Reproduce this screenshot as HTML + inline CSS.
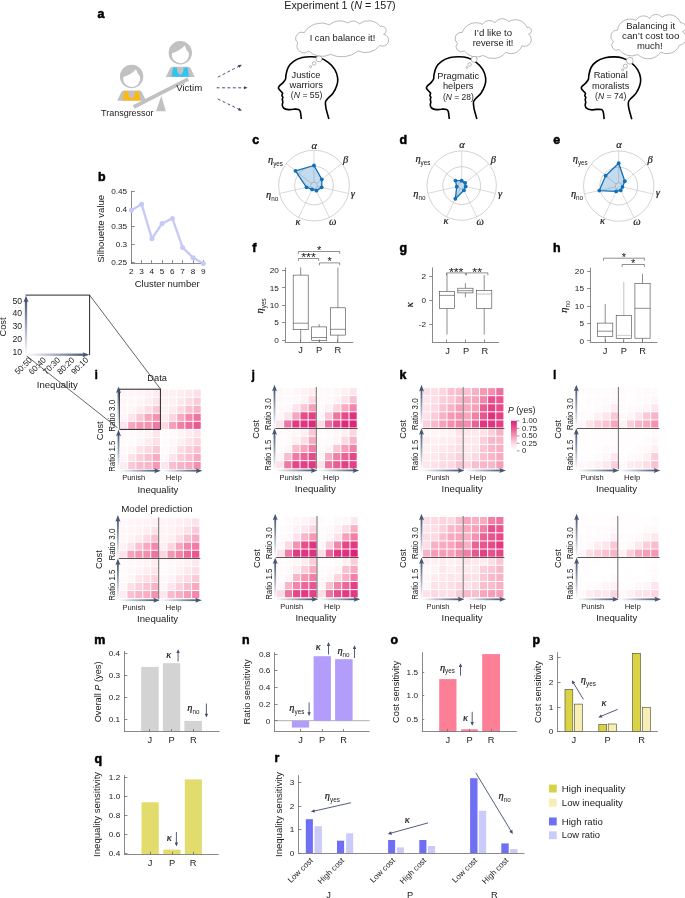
<!DOCTYPE html>
<html><head><meta charset="utf-8"><title>Figure</title>
<style>
html,body{margin:0;padding:0;background:#fff;overflow:hidden;}
svg{display:block;font-family:"Liberation Sans",sans-serif;fill:#1a1a1a;}
</style></head><body>
<svg width="685" height="898" viewBox="0 0 685 898">
<rect width="685" height="898" fill="#fff"/>
<defs>
<linearGradient id="gx" x1="0" y1="0" x2="1" y2="0"><stop offset="0" stop-color="#ffffff"/><stop offset="0.15" stop-color="#e8eaef"/><stop offset="1" stop-color="#475675"/></linearGradient>
<linearGradient id="gy" x1="0" y1="1" x2="0" y2="0"><stop offset="0" stop-color="#ffffff"/><stop offset="0.15" stop-color="#e8eaef"/><stop offset="1" stop-color="#475675"/></linearGradient>
<linearGradient id="cb" x1="0" y1="0" x2="0" y2="1"><stop offset="0" stop-color="#dd1e76"/><stop offset="0.25" stop-color="#e9568f"/><stop offset="0.55" stop-color="#f7a2bb"/><stop offset="0.8" stop-color="#fde0e8"/><stop offset="1" stop-color="#ffffff"/></linearGradient>
</defs>
<text x="340.00" y="8.80" font-size="11" text-anchor="middle" textLength="111.40" lengthAdjust="spacingAndGlyphs">Experiment 1 (<tspan font-style="italic">N</tspan> = 157)</text>
<text x="97.60" y="18.40" font-size="12.4" font-weight="bold" fill="#000" stroke="#000" stroke-width="0.55" stroke-linejoin="round">a</text>
<line x1="133.70" y1="107.00" x2="188.20" y2="79.10" stroke="#c1c1c1" stroke-width="3.8" />
<path d="M161.3,95.8 L156,111.2 L165.9,111.2Z" fill="#c1c1c1" />
<circle cx="131.60" cy="76.50" r="11.70" fill="#c1c1c1"/>
<path d="M123.30,76.90 Q130.60,75.30 136.00,69.30 Q137.40,73.90 139.90,76.30 A8.5,8.5 0 1 1 123.30,76.90Z" fill="#fff" />
<path d="M124.00,90.50 L139.20,90.50 Q141.20,90.50 142.00,92.30 L146.00,100.70 L117.20,100.70 L121.20,92.30 Q122.00,90.50 124.00,90.50Z" fill="#c1c1c1" />
<path d="M124.40,91.30 L128.20,91.30 C128.60,100.90 134.60,100.90 135.00,91.30 L138.80,91.30 L140.50,100.50 L122.70,100.50Z" fill="#fdb813" />
<circle cx="180.30" cy="52.80" r="11.70" fill="#c1c1c1"/>
<path d="M172.00,53.20 Q179.30,51.60 184.70,45.60 Q186.10,50.20 188.60,52.60 A8.5,8.5 0 1 1 172.00,53.20Z" fill="#fff" />
<path d="M172.70,66.80 L187.90,66.80 Q189.90,66.80 190.70,68.60 L194.70,77.00 L165.90,77.00 L169.90,68.60 Q170.70,66.80 172.70,66.80Z" fill="#c1c1c1" />
<path d="M173.10,67.60 L176.90,67.60 C177.30,77.20 183.30,77.20 183.70,67.60 L187.50,67.60 L189.20,76.80 L171.40,76.80Z" fill="#33c3f3" />
<text x="176.20" y="91.20" font-size="9.3" textLength="26.00" lengthAdjust="spacingAndGlyphs">Victim</text>
<text x="101.00" y="115.50" font-size="9.3" textLength="52.60" lengthAdjust="spacingAndGlyphs">Transgressor</text>
<line x1="217.80" y1="77.20" x2="239.15" y2="66.13" stroke="#34405e" stroke-width="0.9" stroke-dasharray="3 2.4"/>
<path d="M241.90,64.70 L239.39,67.69 L238.01,65.03Z" fill="#34405e" />
<line x1="216.60" y1="87.80" x2="244.50" y2="87.80" stroke="#34405e" stroke-width="0.9" stroke-dasharray="3 2.4"/>
<path d="M247.60,87.80 L244.00,89.30 L244.00,86.30Z" fill="#34405e" />
<line x1="217.80" y1="99.00" x2="239.11" y2="109.35" stroke="#34405e" stroke-width="0.9" stroke-dasharray="3 2.4"/>
<path d="M241.90,110.70 L238.01,110.48 L239.32,107.78Z" fill="#34405e" />
<path d="M301.30,119.00 C301.13,117.77 300.77,113.20 300.30,111.60 C299.83,110.00 299.62,109.80 298.50,109.40 C297.38,109.00 295.32,109.17 293.60,109.20 C291.88,109.23 289.87,109.80 288.20,109.60 C286.53,109.40 284.58,108.75 283.60,108.00 C282.62,107.25 282.43,106.12 282.30,105.10 C282.17,104.08 282.80,102.88 282.80,101.90 C282.80,100.92 282.28,99.97 282.30,99.20 C282.32,98.43 282.97,97.93 282.90,97.30 C282.83,96.67 281.95,96.08 281.90,95.40 C281.85,94.72 282.72,93.83 282.60,93.20 C282.48,92.57 281.88,92.40 281.20,91.60 C280.52,90.80 278.87,89.27 278.50,88.40 C278.13,87.53 278.28,87.32 279.00,86.40 C279.72,85.48 281.72,84.10 282.80,82.90 C283.88,81.70 284.97,80.55 285.50,79.20 C286.03,77.85 285.55,76.78 286.00,74.80 C286.45,72.82 286.93,69.55 288.20,67.30 C289.47,65.05 291.27,62.92 293.60,61.30 C295.93,59.68 299.32,58.37 302.20,57.60 C305.08,56.83 308.02,56.67 310.90,56.70 C313.78,56.73 316.62,56.85 319.50,57.80 C322.38,58.75 325.67,60.47 328.20,62.40 C330.73,64.33 333.12,66.78 334.70,69.40 C336.28,72.02 337.35,75.40 337.70,78.10 C338.05,80.80 337.58,83.08 336.80,85.60 C336.02,88.12 334.43,91.12 333.00,93.20 C331.57,95.28 329.45,96.65 328.20,98.10 C326.95,99.55 325.87,100.20 325.50,101.90 C325.13,103.60 325.43,105.45 326.00,108.30 C326.57,111.15 328.42,117.22 328.90,119.00" fill="none" stroke="#000" stroke-width="1.6" stroke-linecap="butt" stroke-linejoin="round"/>
<path d="M449.30,119.00 C449.13,117.77 448.77,113.20 448.30,111.60 C447.83,110.00 447.62,109.80 446.50,109.40 C445.38,109.00 443.32,109.17 441.60,109.20 C439.88,109.23 437.87,109.80 436.20,109.60 C434.53,109.40 432.58,108.75 431.60,108.00 C430.62,107.25 430.43,106.12 430.30,105.10 C430.17,104.08 430.80,102.88 430.80,101.90 C430.80,100.92 430.28,99.97 430.30,99.20 C430.32,98.43 430.97,97.93 430.90,97.30 C430.83,96.67 429.95,96.08 429.90,95.40 C429.85,94.72 430.72,93.83 430.60,93.20 C430.48,92.57 429.88,92.40 429.20,91.60 C428.52,90.80 426.87,89.27 426.50,88.40 C426.13,87.53 426.28,87.32 427.00,86.40 C427.72,85.48 429.72,84.10 430.80,82.90 C431.88,81.70 432.97,80.55 433.50,79.20 C434.03,77.85 433.55,76.78 434.00,74.80 C434.45,72.82 434.93,69.55 436.20,67.30 C437.47,65.05 439.27,62.92 441.60,61.30 C443.93,59.68 447.32,58.37 450.20,57.60 C453.08,56.83 456.02,56.67 458.90,56.70 C461.78,56.73 464.62,56.85 467.50,57.80 C470.38,58.75 473.67,60.47 476.20,62.40 C478.73,64.33 481.12,66.78 482.70,69.40 C484.28,72.02 485.35,75.40 485.70,78.10 C486.05,80.80 485.58,83.08 484.80,85.60 C484.02,88.12 482.43,91.12 481.00,93.20 C479.57,95.28 477.45,96.65 476.20,98.10 C474.95,99.55 473.87,100.20 473.50,101.90 C473.13,103.60 473.43,105.45 474.00,108.30 C474.57,111.15 476.42,117.22 476.90,119.00" fill="none" stroke="#000" stroke-width="1.6" stroke-linecap="butt" stroke-linejoin="round"/>
<path d="M604.20,119.20 C604.03,117.97 603.67,113.40 603.20,111.80 C602.73,110.20 602.52,110.00 601.40,109.60 C600.28,109.20 598.22,109.37 596.50,109.40 C594.78,109.43 592.77,110.00 591.10,109.80 C589.43,109.60 587.48,108.95 586.50,108.20 C585.52,107.45 585.33,106.32 585.20,105.30 C585.07,104.28 585.70,103.08 585.70,102.10 C585.70,101.12 585.18,100.17 585.20,99.40 C585.22,98.63 585.87,98.13 585.80,97.50 C585.73,96.87 584.85,96.28 584.80,95.60 C584.75,94.92 585.62,94.03 585.50,93.40 C585.38,92.77 584.78,92.60 584.10,91.80 C583.42,91.00 581.77,89.47 581.40,88.60 C581.03,87.73 581.18,87.52 581.90,86.60 C582.62,85.68 584.62,84.30 585.70,83.10 C586.78,81.90 587.87,80.75 588.40,79.40 C588.93,78.05 588.45,76.98 588.90,75.00 C589.35,73.02 589.83,69.75 591.10,67.50 C592.37,65.25 594.17,63.12 596.50,61.50 C598.83,59.88 602.22,58.57 605.10,57.80 C607.98,57.03 610.92,56.87 613.80,56.90 C616.68,56.93 619.52,57.05 622.40,58.00 C625.28,58.95 628.57,60.67 631.10,62.60 C633.63,64.53 636.02,66.98 637.60,69.60 C639.18,72.22 640.25,75.60 640.60,78.30 C640.95,81.00 640.48,83.28 639.70,85.80 C638.92,88.32 637.33,91.32 635.90,93.40 C634.47,95.48 632.35,96.85 631.10,98.30 C629.85,99.75 628.77,100.40 628.40,102.10 C628.03,103.80 628.33,105.65 628.90,108.50 C629.47,111.35 631.32,117.42 631.80,119.20" fill="none" stroke="#000" stroke-width="1.6" stroke-linecap="butt" stroke-linejoin="round"/>
<path d="M297.70,42.80 A6.06,6.06 0 0 1 304.20,32.80 A20.14,20.14 0 0 1 329.50,24.70 A15.88,15.88 0 0 1 348.00,23.00 A7.56,7.56 0 0 1 359.20,23.90 A15.06,15.06 0 0 1 380.50,26.60 A4.15,4.15 0 1 1 383.60,34.30 A5.96,5.96 0 1 1 379.80,45.40 A17.70,17.70 0 0 1 358.10,51.00 A26.17,26.17 0 0 1 330.50,54.40 A19.29,19.29 0 0 1 308.60,51.00 A6.98,6.98 0 0 1 297.70,42.80Z" fill="#fff" stroke="#8a8a8a" stroke-width="0.6" />
<circle cx="319.00" cy="58.90" r="3.00" fill="#fff" stroke="#8a8a8a" stroke-width="0.6"/>
<circle cx="314.10" cy="63.40" r="1.80" fill="#fff" stroke="#8a8a8a" stroke-width="0.6"/>
<circle cx="310.60" cy="66.60" r="1.00" fill="#fff" stroke="#8a8a8a" stroke-width="0.6"/>
<text x="342.50" y="41.10" font-size="9.3" text-anchor="middle" textLength="65.70" lengthAdjust="spacingAndGlyphs">I can balance it!</text>
<path d="M457.40,43.30 A6.04,6.04 0 0 1 462.10,32.60 A14.63,14.63 0 0 1 482.50,24.30 A8.00,8.00 0 0 1 494.90,22.80 A8.69,8.69 0 0 1 508.80,21.70 A12.39,12.39 0 0 1 527.00,27.50 A3.39,3.39 0 1 1 528.50,34.10 A6.76,6.76 0 0 1 521.90,45.80 A11.32,11.32 0 0 1 505.90,52.30 A16.85,16.85 0 0 1 483.20,55.50 A15.40,15.40 0 0 1 464.20,50.90 A5.14,5.14 0 0 1 457.40,43.30Z" fill="#fff" stroke="#8a8a8a" stroke-width="0.6" />
<circle cx="474.10" cy="59.30" r="3.00" fill="#fff" stroke="#8a8a8a" stroke-width="0.6"/>
<circle cx="469.60" cy="64.50" r="1.70" fill="#fff" stroke="#8a8a8a" stroke-width="0.6"/>
<circle cx="466.90" cy="67.50" r="0.90" fill="#fff" stroke="#8a8a8a" stroke-width="0.6"/>
<text x="493.10" y="36.00" font-size="9.3" text-anchor="middle" textLength="38.00" lengthAdjust="spacingAndGlyphs">I’d like to</text>
<text x="493.10" y="46.20" font-size="9.3" text-anchor="middle" textLength="40.70" lengthAdjust="spacingAndGlyphs">reverse it!</text>
<path d="M613.40,41.50 A6.18,6.18 0 0 1 617.40,30.30 A12.84,12.84 0 0 1 636.00,20.40 A8.48,8.48 0 0 1 649.60,18.50 A7.29,7.29 0 0 1 662.00,17.30 A12.03,12.03 0 0 1 680.70,22.90 A4.47,4.47 0 0 1 682.50,31.60 A7.36,7.36 0 0 1 679.40,45.20 A13.14,13.14 0 0 1 660.80,52.00 A14.91,14.91 0 0 1 637.80,54.50 A14.96,14.96 0 0 1 619.20,49.60 A5.01,5.01 0 0 1 613.40,41.50Z" fill="#fff" stroke="#8a8a8a" stroke-width="0.6" />
<circle cx="629.80" cy="60.70" r="3.40" fill="#fff" stroke="#8a8a8a" stroke-width="0.6"/>
<circle cx="625.40" cy="66.10" r="2.00" fill="#fff" stroke="#8a8a8a" stroke-width="0.6"/>
<circle cx="622.70" cy="69.80" r="1.10" fill="#fff" stroke="#8a8a8a" stroke-width="0.6"/>
<text x="650.70" y="28.50" font-size="9.3" text-anchor="middle" textLength="48.80" lengthAdjust="spacingAndGlyphs">Balancing it</text>
<text x="650.70" y="38.80" font-size="9.3" text-anchor="middle" textLength="57.30" lengthAdjust="spacingAndGlyphs">can’t cost too</text>
<text x="649.80" y="48.90" font-size="9.3" text-anchor="middle" textLength="25.80" lengthAdjust="spacingAndGlyphs">much!</text>
<text x="306.00" y="77.50" font-size="9.3" text-anchor="middle">Justice</text>
<text x="306.20" y="87.80" font-size="9.3" text-anchor="middle" textLength="33.50" lengthAdjust="spacingAndGlyphs">warriors</text>
<text x="306.60" y="97.70" font-size="9.3" text-anchor="middle" textLength="31.50" lengthAdjust="spacingAndGlyphs">(<tspan font-style="italic">N</tspan> = 55)</text>
<text x="458.20" y="79.00" font-size="9.3" text-anchor="middle">Pragmatic</text>
<text x="458.20" y="89.30" font-size="9.3" text-anchor="middle">helpers</text>
<text x="458.40" y="99.50" font-size="9.3" text-anchor="middle" textLength="30.80" lengthAdjust="spacingAndGlyphs">(<tspan font-style="italic">N</tspan> = 28)</text>
<text x="610.70" y="78.40" font-size="9.3" text-anchor="middle">Rational</text>
<text x="610.70" y="88.80" font-size="9.3" text-anchor="middle">moralists</text>
<text x="610.70" y="99.40" font-size="9.3" text-anchor="middle" textLength="31.20" lengthAdjust="spacingAndGlyphs">(<tspan font-style="italic">N</tspan> = 74)</text>
<text x="98.00" y="181.40" font-size="12.4" font-weight="bold" fill="#000" stroke="#000" stroke-width="0.55" stroke-linejoin="round">b</text>
<line x1="131.50" y1="190.90" x2="131.50" y2="263.40" stroke="#6c6c6c" stroke-width="0.8" />
<line x1="131.00" y1="263.50" x2="204.00" y2="263.50" stroke="#6c6c6c" stroke-width="0.8" />
<line x1="131.40" y1="191.50" x2="134.80" y2="191.50" stroke="#6c6c6c" stroke-width="0.8" />
<text x="127.20" y="194.00" font-size="7.9" text-anchor="end" textLength="15.99" lengthAdjust="spacingAndGlyphs">0.45</text>
<line x1="131.40" y1="208.50" x2="134.80" y2="208.50" stroke="#6c6c6c" stroke-width="0.8" />
<text x="127.20" y="211.60" font-size="7.9" text-anchor="end" textLength="11.42" lengthAdjust="spacingAndGlyphs">0.4</text>
<line x1="131.40" y1="226.50" x2="134.80" y2="226.50" stroke="#6c6c6c" stroke-width="0.8" />
<text x="127.20" y="229.30" font-size="7.9" text-anchor="end" textLength="15.99" lengthAdjust="spacingAndGlyphs">0.35</text>
<line x1="131.40" y1="244.50" x2="134.80" y2="244.50" stroke="#6c6c6c" stroke-width="0.8" />
<text x="127.20" y="247.10" font-size="7.9" text-anchor="end" textLength="11.42" lengthAdjust="spacingAndGlyphs">0.3</text>
<line x1="131.40" y1="262.50" x2="134.80" y2="262.50" stroke="#6c6c6c" stroke-width="0.8" />
<text x="127.20" y="265.10" font-size="7.9" text-anchor="end" textLength="15.99" lengthAdjust="spacingAndGlyphs">0.25</text>
<line x1="131.50" y1="263.40" x2="131.50" y2="260.20" stroke="#6c6c6c" stroke-width="0.8" />
<text x="131.40" y="274.30" font-size="7.9" text-anchor="middle" textLength="4.57" lengthAdjust="spacingAndGlyphs">2</text>
<line x1="141.50" y1="263.40" x2="141.50" y2="260.20" stroke="#6c6c6c" stroke-width="0.8" />
<text x="141.60" y="274.30" font-size="7.9" text-anchor="middle" textLength="4.57" lengthAdjust="spacingAndGlyphs">3</text>
<line x1="151.50" y1="263.40" x2="151.50" y2="260.20" stroke="#6c6c6c" stroke-width="0.8" />
<text x="151.90" y="274.30" font-size="7.9" text-anchor="middle" textLength="4.57" lengthAdjust="spacingAndGlyphs">4</text>
<line x1="162.50" y1="263.40" x2="162.50" y2="260.20" stroke="#6c6c6c" stroke-width="0.8" />
<text x="162.10" y="274.30" font-size="7.9" text-anchor="middle" textLength="4.57" lengthAdjust="spacingAndGlyphs">5</text>
<line x1="172.50" y1="263.40" x2="172.50" y2="260.20" stroke="#6c6c6c" stroke-width="0.8" />
<text x="172.40" y="274.30" font-size="7.9" text-anchor="middle" textLength="4.57" lengthAdjust="spacingAndGlyphs">6</text>
<line x1="182.50" y1="263.40" x2="182.50" y2="260.20" stroke="#6c6c6c" stroke-width="0.8" />
<text x="182.60" y="274.30" font-size="7.9" text-anchor="middle" textLength="4.57" lengthAdjust="spacingAndGlyphs">7</text>
<line x1="193.50" y1="263.40" x2="193.50" y2="260.20" stroke="#6c6c6c" stroke-width="0.8" />
<text x="193.10" y="274.30" font-size="7.9" text-anchor="middle" textLength="4.57" lengthAdjust="spacingAndGlyphs">8</text>
<line x1="203.50" y1="263.40" x2="203.50" y2="260.20" stroke="#6c6c6c" stroke-width="0.8" />
<text x="203.30" y="274.30" font-size="7.9" text-anchor="middle" textLength="4.57" lengthAdjust="spacingAndGlyphs">9</text>
<polyline points="131.4,210.2 141.6,204.2 151.9,238.7 162.1,223.5 172.4,218.4 182.6,247.4 193.1,257.7 203.3,263.6" fill="none" stroke="#c6c9f6" stroke-width="2.3" stroke-linejoin="round"/>
<circle cx="131.40" cy="210.20" r="2.50" fill="#c6c9f6"/>
<circle cx="141.60" cy="204.20" r="2.50" fill="#c6c9f6"/>
<circle cx="151.90" cy="238.70" r="2.50" fill="#c6c9f6"/>
<circle cx="162.10" cy="223.50" r="2.50" fill="#c6c9f6"/>
<circle cx="172.40" cy="218.40" r="2.50" fill="#c6c9f6"/>
<circle cx="182.60" cy="247.40" r="2.50" fill="#c6c9f6"/>
<circle cx="193.10" cy="257.70" r="2.50" fill="#c6c9f6"/>
<circle cx="203.30" cy="263.60" r="2.50" fill="#c6c9f6"/>
<text x="167.20" y="287.30" font-size="9.3" text-anchor="middle" textLength="65.00" lengthAdjust="spacingAndGlyphs">Cluster number</text>
<text x="104.20" y="228.80" font-size="9.3" text-anchor="middle" transform="rotate(-90 104.20 228.80)" textLength="68.00" lengthAdjust="spacingAndGlyphs">Silhouette value</text>
<line x1="89.60" y1="295.10" x2="160.60" y2="389.20" stroke="#222" stroke-width="0.7" />
<line x1="25.60" y1="355.10" x2="119.50" y2="429.40" stroke="#222" stroke-width="0.7" />
<rect x="25.60" y="295.10" width="64.00" height="60.00" fill="#fff" />
<line x1="25.60" y1="295.10" x2="90.00" y2="295.10" stroke="#111" stroke-width="0.9" />
<line x1="89.60" y1="295.10" x2="89.60" y2="355.10" stroke="#111" stroke-width="0.9" />
<rect x="24.85" y="300.00" width="2.3" height="55.10" fill="url(#gy)"/>
<path d="M26.00,295.60 L23.50,302.20 L26.00,301.00 L28.50,302.20Z" fill="#475675" />
<rect x="25.60" y="353.55" width="59.30" height="2.3" fill="url(#gx)"/>
<path d="M89.30,354.70 L82.70,352.20 L83.90,354.70 L82.70,357.20Z" fill="#475675" />
<text x="22.00" y="303.90" font-size="8.3" text-anchor="end" textLength="9.60" lengthAdjust="spacingAndGlyphs">50</text>
<text x="22.00" y="316.20" font-size="8.3" text-anchor="end" textLength="9.60" lengthAdjust="spacingAndGlyphs">40</text>
<text x="22.00" y="328.90" font-size="8.3" text-anchor="end" textLength="9.60" lengthAdjust="spacingAndGlyphs">30</text>
<text x="22.00" y="342.20" font-size="8.3" text-anchor="end" textLength="9.60" lengthAdjust="spacingAndGlyphs">20</text>
<text x="22.00" y="355.10" font-size="8.3" text-anchor="end" textLength="9.60" lengthAdjust="spacingAndGlyphs">10</text>
<text x="6.30" y="327.00" font-size="9.3" text-anchor="middle" transform="rotate(-90 6.30 327.00)">Cost</text>
<text x="32.60" y="360.60" font-size="8.2" text-anchor="end" transform="rotate(-45 32.60 360.60)">50:50</text>
<text x="46.60" y="360.60" font-size="8.2" text-anchor="end" transform="rotate(-45 46.60 360.60)">60:40</text>
<text x="60.80" y="360.60" font-size="8.2" text-anchor="end" transform="rotate(-45 60.80 360.60)">70:30</text>
<text x="75.00" y="360.60" font-size="8.2" text-anchor="end" transform="rotate(-45 75.00 360.60)">80:20</text>
<text x="89.00" y="360.60" font-size="8.2" text-anchor="end" transform="rotate(-45 89.00 360.60)">90:10</text>
<text x="57.30" y="388.30" font-size="9.3" text-anchor="middle" textLength="41.00" lengthAdjust="spacingAndGlyphs">Inequality</text>
<text x="252.20" y="144.40" font-size="12.4" font-weight="bold" fill="#000" stroke="#000" stroke-width="0.55" stroke-linejoin="round">c</text>
<text x="399.60" y="144.40" font-size="12.4" font-weight="bold" fill="#000" stroke="#000" stroke-width="0.55" stroke-linejoin="round">d</text>
<text x="553.20" y="144.40" font-size="12.4" font-weight="bold" fill="#000" stroke="#000" stroke-width="0.55" stroke-linejoin="round">e</text>
<circle cx="314.00" cy="185.60" r="35.40" fill="none" stroke="#b5b5b5" stroke-width="0.6"/>
<circle cx="314.00" cy="185.60" r="19.30" fill="none" stroke="#b5b5b5" stroke-width="0.6"/>
<circle cx="314.00" cy="185.60" r="3.40" fill="none" stroke="#b5b5b5" stroke-width="0.6"/>
<line x1="314.00" y1="182.20" x2="314.00" y2="150.20" stroke="#b5b5b5" stroke-width="0.5" />
<line x1="316.66" y1="183.48" x2="341.68" y2="163.53" stroke="#b5b5b5" stroke-width="0.5" />
<line x1="317.31" y1="186.36" x2="348.51" y2="193.48" stroke="#b5b5b5" stroke-width="0.5" />
<line x1="315.48" y1="188.66" x2="329.36" y2="217.49" stroke="#b5b5b5" stroke-width="0.5" />
<line x1="312.52" y1="188.66" x2="298.64" y2="217.49" stroke="#b5b5b5" stroke-width="0.5" />
<line x1="310.69" y1="186.36" x2="279.49" y2="193.48" stroke="#b5b5b5" stroke-width="0.5" />
<line x1="311.34" y1="183.48" x2="286.32" y2="163.53" stroke="#b5b5b5" stroke-width="0.5" />
<polygon points="314.00,165.50 321.82,179.37 321.70,187.36 316.43,190.65 312.13,189.47 306.49,187.31 295.47,170.82" fill="#1170b8" fill-opacity="0.25" stroke="#1170b8" stroke-width="1.3" stroke-linejoin="round"/>
<circle cx="314.00" cy="165.50" r="1.90" fill="#1170b8"/>
<circle cx="321.82" cy="179.37" r="1.90" fill="#1170b8"/>
<circle cx="321.70" cy="187.36" r="1.90" fill="#1170b8"/>
<circle cx="316.43" cy="190.65" r="1.90" fill="#1170b8"/>
<circle cx="312.13" cy="189.47" r="1.90" fill="#1170b8"/>
<circle cx="306.49" cy="187.31" r="1.90" fill="#1170b8"/>
<circle cx="295.47" cy="170.82" r="1.90" fill="#1170b8"/>
<text x="314.30" y="149.00" font-size="10.5" text-anchor="middle" font-family='"Liberation Serif", serif' font-style="italic" stroke="#1a1a1a" stroke-width="0.2">α</text>
<text x="345.60" y="163.40" font-size="10.5" text-anchor="middle" font-family='"Liberation Serif", serif' font-style="italic" stroke="#1a1a1a" stroke-width="0.2">β</text>
<text x="352.80" y="196.80" font-size="10.5" text-anchor="middle" font-family='"Liberation Serif", serif' font-style="italic" stroke="#1a1a1a" stroke-width="0.2">γ</text>
<text x="332.70" y="225.30" font-size="10.5" text-anchor="middle" font-family='"Liberation Serif", serif' font-style="italic" stroke="#1a1a1a" stroke-width="0.2">ω</text>
<text x="297.90" y="224.90" font-size="10.5" text-anchor="middle" font-family='"Liberation Serif", serif' font-style="italic" stroke="#1a1a1a" stroke-width="0.2">κ</text>
<text x="272.20" y="198.10" font-size="10.5" text-anchor="middle"><tspan font-family='"Liberation Serif", serif' font-style="italic" font-size="10.5" stroke="#1a1a1a" stroke-width="0.2">η</tspan><tspan font-size="6.3" dy="2.73">no</tspan></text>
<text x="275.50" y="163.00" font-size="10.5" text-anchor="middle"><tspan font-family='"Liberation Serif", serif' font-style="italic" font-size="10.5" stroke="#1a1a1a" stroke-width="0.2">η</tspan><tspan font-size="6.3" dy="2.73">yes</tspan></text>
<circle cx="461.70" cy="185.60" r="34.70" fill="none" stroke="#b5b5b5" stroke-width="0.6"/>
<circle cx="461.70" cy="185.60" r="18.90" fill="none" stroke="#b5b5b5" stroke-width="0.6"/>
<circle cx="461.70" cy="185.60" r="3.40" fill="none" stroke="#b5b5b5" stroke-width="0.6"/>
<line x1="461.70" y1="182.20" x2="461.70" y2="150.90" stroke="#b5b5b5" stroke-width="0.5" />
<line x1="464.36" y1="183.48" x2="488.83" y2="163.96" stroke="#b5b5b5" stroke-width="0.5" />
<line x1="465.01" y1="186.36" x2="495.53" y2="193.32" stroke="#b5b5b5" stroke-width="0.5" />
<line x1="463.18" y1="188.66" x2="476.76" y2="216.86" stroke="#b5b5b5" stroke-width="0.5" />
<line x1="460.22" y1="188.66" x2="446.64" y2="216.86" stroke="#b5b5b5" stroke-width="0.5" />
<line x1="458.39" y1="186.36" x2="427.87" y2="193.32" stroke="#b5b5b5" stroke-width="0.5" />
<line x1="459.04" y1="183.48" x2="434.57" y2="163.96" stroke="#b5b5b5" stroke-width="0.5" />
<polygon points="461.70,180.70 465.14,182.86 465.70,186.51 463.96,190.29 455.37,198.75 456.73,186.73 455.45,180.61" fill="#1170b8" fill-opacity="0.25" stroke="#1170b8" stroke-width="1.3" stroke-linejoin="round"/>
<circle cx="461.70" cy="180.70" r="1.90" fill="#1170b8"/>
<circle cx="465.14" cy="182.86" r="1.90" fill="#1170b8"/>
<circle cx="465.70" cy="186.51" r="1.90" fill="#1170b8"/>
<circle cx="463.96" cy="190.29" r="1.90" fill="#1170b8"/>
<circle cx="455.37" cy="198.75" r="1.90" fill="#1170b8"/>
<circle cx="456.73" cy="186.73" r="1.90" fill="#1170b8"/>
<circle cx="455.45" cy="180.61" r="1.90" fill="#1170b8"/>
<text x="461.90" y="147.90" font-size="10.5" text-anchor="middle" font-family='"Liberation Serif", serif' font-style="italic" stroke="#1a1a1a" stroke-width="0.2">α</text>
<text x="493.40" y="162.80" font-size="10.5" text-anchor="middle" font-family='"Liberation Serif", serif' font-style="italic" stroke="#1a1a1a" stroke-width="0.2">β</text>
<text x="500.10" y="197.00" font-size="10.5" text-anchor="middle" font-family='"Liberation Serif", serif' font-style="italic" stroke="#1a1a1a" stroke-width="0.2">γ</text>
<text x="480.10" y="225.00" font-size="10.5" text-anchor="middle" font-family='"Liberation Serif", serif' font-style="italic" stroke="#1a1a1a" stroke-width="0.2">ω</text>
<text x="446.00" y="224.20" font-size="10.5" text-anchor="middle" font-family='"Liberation Serif", serif' font-style="italic" stroke="#1a1a1a" stroke-width="0.2">κ</text>
<text x="419.40" y="197.20" font-size="10.5" text-anchor="middle"><tspan font-family='"Liberation Serif", serif' font-style="italic" font-size="10.5" stroke="#1a1a1a" stroke-width="0.2">η</tspan><tspan font-size="6.3" dy="2.73">no</tspan></text>
<text x="422.90" y="162.40" font-size="10.5" text-anchor="middle"><tspan font-family='"Liberation Serif", serif' font-style="italic" font-size="10.5" stroke="#1a1a1a" stroke-width="0.2">η</tspan><tspan font-size="6.3" dy="2.73">yes</tspan></text>
<circle cx="618.70" cy="186.10" r="35.20" fill="none" stroke="#b5b5b5" stroke-width="0.6"/>
<circle cx="618.70" cy="186.10" r="18.90" fill="none" stroke="#b5b5b5" stroke-width="0.6"/>
<circle cx="618.70" cy="186.10" r="3.40" fill="none" stroke="#b5b5b5" stroke-width="0.6"/>
<line x1="618.70" y1="182.70" x2="618.70" y2="150.90" stroke="#b5b5b5" stroke-width="0.5" />
<line x1="621.36" y1="183.98" x2="646.22" y2="164.15" stroke="#b5b5b5" stroke-width="0.5" />
<line x1="622.01" y1="186.86" x2="653.02" y2="193.93" stroke="#b5b5b5" stroke-width="0.5" />
<line x1="620.18" y1="189.16" x2="633.97" y2="217.81" stroke="#b5b5b5" stroke-width="0.5" />
<line x1="617.22" y1="189.16" x2="603.43" y2="217.81" stroke="#b5b5b5" stroke-width="0.5" />
<line x1="615.39" y1="186.86" x2="584.38" y2="193.93" stroke="#b5b5b5" stroke-width="0.5" />
<line x1="616.04" y1="183.98" x2="591.18" y2="164.15" stroke="#b5b5b5" stroke-width="0.5" />
<polygon points="618.70,163.20 624.80,181.24 622.50,186.97 620.78,190.42 616.14,191.42 599.30,190.53 605.64,175.69" fill="#1170b8" fill-opacity="0.25" stroke="#1170b8" stroke-width="1.3" stroke-linejoin="round"/>
<circle cx="618.70" cy="163.20" r="1.90" fill="#1170b8"/>
<circle cx="624.80" cy="181.24" r="1.90" fill="#1170b8"/>
<circle cx="622.50" cy="186.97" r="1.90" fill="#1170b8"/>
<circle cx="620.78" cy="190.42" r="1.90" fill="#1170b8"/>
<circle cx="616.14" cy="191.42" r="1.90" fill="#1170b8"/>
<circle cx="599.30" cy="190.53" r="1.90" fill="#1170b8"/>
<circle cx="605.64" cy="175.69" r="1.90" fill="#1170b8"/>
<text x="619.00" y="147.80" font-size="10.5" text-anchor="middle" font-family='"Liberation Serif", serif' font-style="italic" stroke="#1a1a1a" stroke-width="0.2">α</text>
<text x="650.00" y="162.90" font-size="10.5" text-anchor="middle" font-family='"Liberation Serif", serif' font-style="italic" stroke="#1a1a1a" stroke-width="0.2">β</text>
<text x="657.70" y="196.10" font-size="10.5" text-anchor="middle" font-family='"Liberation Serif", serif' font-style="italic" stroke="#1a1a1a" stroke-width="0.2">γ</text>
<text x="637.00" y="224.60" font-size="10.5" text-anchor="middle" font-family='"Liberation Serif", serif' font-style="italic" stroke="#1a1a1a" stroke-width="0.2">ω</text>
<text x="602.40" y="224.00" font-size="10.5" text-anchor="middle" font-family='"Liberation Serif", serif' font-style="italic" stroke="#1a1a1a" stroke-width="0.2">κ</text>
<text x="577.00" y="196.80" font-size="10.5" text-anchor="middle"><tspan font-family='"Liberation Serif", serif' font-style="italic" font-size="10.5" stroke="#1a1a1a" stroke-width="0.2">η</tspan><tspan font-size="6.3" dy="2.73">no</tspan></text>
<text x="580.20" y="161.80" font-size="10.5" text-anchor="middle"><tspan font-family='"Liberation Serif", serif' font-style="italic" font-size="10.5" stroke="#1a1a1a" stroke-width="0.2">η</tspan><tspan font-size="6.3" dy="2.73">yes</tspan></text>
<text x="252.20" y="251.50" font-size="12.4" font-weight="bold" fill="#000" stroke="#000" stroke-width="0.55" stroke-linejoin="round">f</text>
<line x1="285.50" y1="267.40" x2="285.50" y2="342.10" stroke="#6c6c6c" stroke-width="0.8" />
<line x1="284.70" y1="342.50" x2="353.30" y2="342.50" stroke="#6c6c6c" stroke-width="0.8" />
<line x1="282.10" y1="270.50" x2="285.10" y2="270.50" stroke="#6c6c6c" stroke-width="0.8" />
<text x="278.90" y="272.90" font-size="7.9" text-anchor="end" textLength="9.14" lengthAdjust="spacingAndGlyphs">20</text>
<line x1="282.10" y1="287.50" x2="285.10" y2="287.50" stroke="#6c6c6c" stroke-width="0.8" />
<text x="278.90" y="290.60" font-size="7.9" text-anchor="end" textLength="9.14" lengthAdjust="spacingAndGlyphs">15</text>
<line x1="282.10" y1="305.50" x2="285.10" y2="305.50" stroke="#6c6c6c" stroke-width="0.8" />
<text x="278.90" y="307.90" font-size="7.9" text-anchor="end" textLength="9.14" lengthAdjust="spacingAndGlyphs">10</text>
<line x1="282.10" y1="322.50" x2="285.10" y2="322.50" stroke="#6c6c6c" stroke-width="0.8" />
<text x="278.90" y="325.40" font-size="7.9" text-anchor="end" textLength="4.57" lengthAdjust="spacingAndGlyphs">5</text>
<line x1="282.10" y1="340.50" x2="285.10" y2="340.50" stroke="#6c6c6c" stroke-width="0.8" />
<text x="278.90" y="342.70" font-size="7.9" text-anchor="end" textLength="4.57" lengthAdjust="spacingAndGlyphs">0</text>
<line x1="300.70" y1="275.10" x2="300.70" y2="267.40" stroke="#444" stroke-width="0.6" />
<line x1="300.70" y1="329.70" x2="300.70" y2="342.00" stroke="#444" stroke-width="0.6" />
<rect x="293.20" y="275.10" width="15.00" height="54.60" fill="#fff" stroke="#444" stroke-width="0.6" />
<line x1="293.20" y1="323.20" x2="308.20" y2="323.20" stroke="#444" stroke-width="0.6" />
<line x1="319.20" y1="326.90" x2="319.20" y2="324.10" stroke="#444" stroke-width="0.6" />
<line x1="319.20" y1="340.50" x2="319.20" y2="342.00" stroke="#444" stroke-width="0.6" />
<rect x="311.70" y="326.90" width="15.00" height="13.60" fill="#fff" stroke="#444" stroke-width="0.6" />
<line x1="311.70" y1="337.50" x2="326.70" y2="337.50" stroke="#444" stroke-width="0.6" />
<line x1="337.90" y1="307.80" x2="337.90" y2="267.40" stroke="#444" stroke-width="0.6" />
<line x1="337.90" y1="335.10" x2="337.90" y2="342.00" stroke="#444" stroke-width="0.6" />
<rect x="330.40" y="307.80" width="15.00" height="27.30" fill="#fff" stroke="#444" stroke-width="0.6" />
<line x1="330.40" y1="329.30" x2="345.40" y2="329.30" stroke="#444" stroke-width="0.6" />
<line x1="300.50" y1="342.10" x2="300.50" y2="339.50" stroke="#6c6c6c" stroke-width="0.8" />
<text x="300.70" y="353.20" font-size="9.3" text-anchor="middle">J</text>
<line x1="319.50" y1="342.10" x2="319.50" y2="339.50" stroke="#6c6c6c" stroke-width="0.8" />
<text x="319.20" y="353.20" font-size="9.3" text-anchor="middle">P</text>
<line x1="337.50" y1="342.10" x2="337.50" y2="339.50" stroke="#6c6c6c" stroke-width="0.8" />
<text x="337.90" y="353.20" font-size="9.3" text-anchor="middle">R</text>
<text x="263.50" y="305.90" font-size="10.5" text-anchor="middle" transform="rotate(-90 263.50 305.90)"><tspan font-family='"Liberation Serif", serif' font-style="italic" font-size="10.5" stroke="#1a1a1a" stroke-width="0.2">η</tspan><tspan font-size="6.3" dy="2.73">yes</tspan></text>
<path d="M298.40,253.90 L298.40,251.50 L339.70,251.50 L339.70,253.90" fill="none" stroke="#444" stroke-width="0.6" />
<text x="319.05" y="253.60" font-size="11" text-anchor="middle" fill="#111">*</text>
<path d="M298.40,260.90 L298.40,258.50 L318.70,258.50 L318.70,260.90" fill="none" stroke="#444" stroke-width="0.6" />
<text x="308.55" y="260.60" font-size="11" text-anchor="middle" textLength="14.60" lengthAdjust="spacingAndGlyphs" fill="#111">***</text>
<path d="M319.40,265.30 L319.40,262.90 L339.70,262.90 L339.70,265.30" fill="none" stroke="#444" stroke-width="0.6" />
<text x="329.55" y="265.00" font-size="11" text-anchor="middle" fill="#111">*</text>
<text x="399.60" y="251.50" font-size="12.4" font-weight="bold" fill="#000" stroke="#000" stroke-width="0.55" stroke-linejoin="round">g</text>
<line x1="432.50" y1="267.40" x2="432.50" y2="342.10" stroke="#6c6c6c" stroke-width="0.8" />
<line x1="431.90" y1="342.50" x2="499.10" y2="342.50" stroke="#6c6c6c" stroke-width="0.8" />
<line x1="429.30" y1="276.50" x2="432.30" y2="276.50" stroke="#6c6c6c" stroke-width="0.8" />
<text x="426.10" y="278.90" font-size="7.9" text-anchor="end" textLength="4.57" lengthAdjust="spacingAndGlyphs">2</text>
<line x1="429.30" y1="300.50" x2="432.30" y2="300.50" stroke="#6c6c6c" stroke-width="0.8" />
<text x="426.10" y="302.80" font-size="7.9" text-anchor="end" textLength="4.57" lengthAdjust="spacingAndGlyphs">0</text>
<line x1="429.30" y1="324.50" x2="432.30" y2="324.50" stroke="#6c6c6c" stroke-width="0.8" />
<text x="426.10" y="327.10" font-size="7.9" text-anchor="end" textLength="7.30" lengthAdjust="spacingAndGlyphs">-2</text>
<line x1="447.00" y1="291.30" x2="447.00" y2="273.50" stroke="#444" stroke-width="0.6" />
<line x1="447.00" y1="308.70" x2="447.00" y2="334.60" stroke="#444" stroke-width="0.6" />
<rect x="439.40" y="291.30" width="15.20" height="17.40" fill="#fff" stroke="#444" stroke-width="0.6" />
<line x1="439.40" y1="295.40" x2="454.60" y2="295.40" stroke="#444" stroke-width="0.6" />
<line x1="465.40" y1="288.20" x2="465.40" y2="283.10" stroke="#444" stroke-width="0.6" />
<line x1="465.40" y1="292.90" x2="465.40" y2="297.40" stroke="#444" stroke-width="0.6" />
<rect x="457.80" y="288.20" width="15.20" height="4.70" fill="#fff" stroke="#444" stroke-width="0.6" />
<line x1="457.80" y1="290.70" x2="473.00" y2="290.70" stroke="#444" stroke-width="0.6" />
<line x1="484.20" y1="290.30" x2="484.20" y2="275.00" stroke="#444" stroke-width="0.6" />
<line x1="484.20" y1="308.70" x2="484.20" y2="334.60" stroke="#444" stroke-width="0.6" />
<rect x="476.60" y="290.30" width="15.20" height="18.40" fill="#fff" stroke="#444" stroke-width="0.6" />
<line x1="476.60" y1="294.00" x2="491.80" y2="294.00" stroke="#999" stroke-width="0.6" />
<line x1="446.50" y1="342.10" x2="446.50" y2="339.50" stroke="#6c6c6c" stroke-width="0.8" />
<text x="447.60" y="353.60" font-size="9.3" text-anchor="middle">J</text>
<line x1="465.50" y1="342.10" x2="465.50" y2="339.50" stroke="#6c6c6c" stroke-width="0.8" />
<text x="466.00" y="353.60" font-size="9.3" text-anchor="middle">P</text>
<line x1="484.50" y1="342.10" x2="484.50" y2="339.50" stroke="#6c6c6c" stroke-width="0.8" />
<text x="484.80" y="353.60" font-size="9.3" text-anchor="middle">R</text>
<text x="412.60" y="304.60" font-size="10.5" text-anchor="middle" font-family='"Liberation Serif", serif' font-style="italic" stroke="#1a1a1a" stroke-width="0.2" transform="rotate(-90 412.60 304.60)">κ</text>
<path d="M446.60,275.30 L446.60,272.90 L465.80,272.90 L465.80,275.30" fill="none" stroke="#444" stroke-width="0.6" />
<text x="456.20" y="275.90" font-size="11" text-anchor="middle" textLength="14.60" lengthAdjust="spacingAndGlyphs" fill="#111">***</text>
<path d="M466.40,275.30 L466.40,272.90 L487.90,272.90 L487.90,275.30" fill="none" stroke="#444" stroke-width="0.6" />
<text x="477.15" y="275.90" font-size="11" text-anchor="middle" textLength="9.60" lengthAdjust="spacingAndGlyphs" fill="#111">**</text>
<text x="553.00" y="251.80" font-size="12.4" font-weight="bold" fill="#000" stroke="#000" stroke-width="0.55" stroke-linejoin="round">h</text>
<line x1="590.50" y1="267.70" x2="590.50" y2="342.10" stroke="#6c6c6c" stroke-width="0.8" />
<line x1="589.80" y1="342.50" x2="657.50" y2="342.50" stroke="#6c6c6c" stroke-width="0.8" />
<line x1="587.20" y1="271.50" x2="590.20" y2="271.50" stroke="#6c6c6c" stroke-width="0.8" />
<text x="584.00" y="274.00" font-size="7.9" text-anchor="end" textLength="9.14" lengthAdjust="spacingAndGlyphs">20</text>
<line x1="587.20" y1="288.50" x2="590.20" y2="288.50" stroke="#6c6c6c" stroke-width="0.8" />
<text x="584.00" y="291.30" font-size="7.9" text-anchor="end" textLength="9.14" lengthAdjust="spacingAndGlyphs">15</text>
<line x1="587.20" y1="306.50" x2="590.20" y2="306.50" stroke="#6c6c6c" stroke-width="0.8" />
<text x="584.00" y="308.90" font-size="7.9" text-anchor="end" textLength="9.14" lengthAdjust="spacingAndGlyphs">10</text>
<line x1="587.20" y1="323.50" x2="590.20" y2="323.50" stroke="#6c6c6c" stroke-width="0.8" />
<text x="584.00" y="326.10" font-size="7.9" text-anchor="end" textLength="4.57" lengthAdjust="spacingAndGlyphs">5</text>
<line x1="587.20" y1="340.50" x2="590.20" y2="340.50" stroke="#6c6c6c" stroke-width="0.8" />
<text x="584.00" y="343.60" font-size="7.9" text-anchor="end" textLength="4.57" lengthAdjust="spacingAndGlyphs">0</text>
<line x1="605.20" y1="323.10" x2="605.20" y2="304.10" stroke="#444" stroke-width="0.6" />
<line x1="605.20" y1="336.50" x2="605.20" y2="341.80" stroke="#444" stroke-width="0.6" />
<rect x="597.60" y="323.10" width="15.20" height="13.40" fill="#fff" stroke="#444" stroke-width="0.6" />
<line x1="597.60" y1="331.20" x2="612.80" y2="331.20" stroke="#444" stroke-width="0.6" />
<line x1="623.80" y1="315.50" x2="623.80" y2="281.90" stroke="#999" stroke-width="0.6" />
<line x1="623.80" y1="338.60" x2="623.80" y2="341.80" stroke="#999" stroke-width="0.6" />
<rect x="616.20" y="315.50" width="15.20" height="23.10" fill="#fff" stroke="#444" stroke-width="0.6" />
<line x1="616.20" y1="335.40" x2="631.40" y2="335.40" stroke="#aaa" stroke-width="0.6" />
<line x1="642.50" y1="283.30" x2="642.50" y2="273.80" stroke="#444" stroke-width="0.6" />
<line x1="642.50" y1="338.20" x2="642.50" y2="341.80" stroke="#444" stroke-width="0.6" />
<rect x="634.90" y="283.30" width="15.20" height="54.90" fill="#fff" stroke="#444" stroke-width="0.6" />
<line x1="634.90" y1="308.30" x2="650.10" y2="308.30" stroke="#444" stroke-width="0.6" />
<line x1="605.50" y1="342.10" x2="605.50" y2="339.50" stroke="#6c6c6c" stroke-width="0.8" />
<text x="605.20" y="353.50" font-size="9.3" text-anchor="middle">J</text>
<line x1="623.50" y1="342.10" x2="623.50" y2="339.50" stroke="#6c6c6c" stroke-width="0.8" />
<text x="623.80" y="353.50" font-size="9.3" text-anchor="middle">P</text>
<line x1="642.50" y1="342.10" x2="642.50" y2="339.50" stroke="#6c6c6c" stroke-width="0.8" />
<text x="642.50" y="353.50" font-size="9.3" text-anchor="middle">R</text>
<text x="567.50" y="306.60" font-size="10.5" text-anchor="middle" transform="rotate(-90 567.50 306.60)"><tspan font-family='"Liberation Serif", serif' font-style="italic" font-size="10.5" stroke="#1a1a1a" stroke-width="0.2">η</tspan><tspan font-size="6.3" dy="2.73">no</tspan></text>
<path d="M603.50,260.60 L603.50,258.20 L644.40,258.20 L644.40,260.60" fill="none" stroke="#444" stroke-width="0.6" />
<text x="623.95" y="261.10" font-size="11" text-anchor="middle" fill="#111">*</text>
<path d="M622.10,266.90 L622.10,264.50 L644.40,264.50 L644.40,266.90" fill="none" stroke="#444" stroke-width="0.6" />
<text x="633.25" y="267.40" font-size="11" text-anchor="middle" fill="#111">*</text>
<text x="94.60" y="378.60" font-size="12.4" font-weight="bold" fill="#000" stroke="#000" stroke-width="0.3" stroke-linejoin="round">i</text>
<text x="251.60" y="378.60" font-size="12.4" font-weight="bold" fill="#000" stroke="#000" stroke-width="0.3" stroke-linejoin="round">j</text>
<text x="399.60" y="378.60" font-size="12.4" font-weight="bold" fill="#000" stroke="#000" stroke-width="0.55" stroke-linejoin="round">k</text>
<text x="553.00" y="378.60" font-size="12.4" font-weight="bold" fill="#000" stroke="#000" stroke-width="0.3" stroke-linejoin="round">l</text>
<rect x="120.00" y="389.70" width="7.18" height="7.04" fill="#fff4f7" />
<rect x="128.18" y="389.70" width="7.18" height="7.04" fill="#fff6f8" />
<rect x="136.36" y="389.70" width="7.18" height="7.04" fill="#fff4f7" />
<rect x="144.54" y="389.70" width="7.18" height="7.04" fill="#fff2f5" />
<rect x="152.72" y="389.70" width="7.18" height="7.04" fill="#ffecf1" />
<rect x="120.00" y="397.74" width="7.18" height="7.04" fill="#fff6f8" />
<rect x="128.18" y="397.74" width="7.18" height="7.04" fill="#fff8fa" />
<rect x="136.36" y="397.74" width="7.18" height="7.04" fill="#fff4f7" />
<rect x="144.54" y="397.74" width="7.18" height="7.04" fill="#ffeef3" />
<rect x="152.72" y="397.74" width="7.18" height="7.04" fill="#fee3ea" />
<rect x="120.00" y="405.78" width="7.18" height="7.04" fill="#fff6f8" />
<rect x="128.18" y="405.78" width="7.18" height="7.04" fill="#fff6f8" />
<rect x="136.36" y="405.78" width="7.18" height="7.04" fill="#ffecf1" />
<rect x="144.54" y="405.78" width="7.18" height="7.04" fill="#fedfe7" />
<rect x="152.72" y="405.78" width="7.18" height="7.04" fill="#fbc6d5" />
<rect x="120.00" y="413.82" width="7.18" height="7.04" fill="#fff4f7" />
<rect x="128.18" y="413.82" width="7.18" height="7.04" fill="#fee4ec" />
<rect x="136.36" y="413.82" width="7.18" height="7.04" fill="#fbc6d5" />
<rect x="144.54" y="413.82" width="7.18" height="7.04" fill="#f8a5bd" />
<rect x="152.72" y="413.82" width="7.18" height="7.04" fill="#f592b1" />
<rect x="120.00" y="421.86" width="7.18" height="7.04" fill="#fee4ec" />
<rect x="128.18" y="421.86" width="7.18" height="7.04" fill="#f8a5bd" />
<rect x="136.36" y="421.86" width="7.18" height="7.04" fill="#f697b4" />
<rect x="144.54" y="421.86" width="7.18" height="7.04" fill="#f592b1" />
<rect x="152.72" y="421.86" width="7.18" height="7.04" fill="#f07aa4" />
<rect x="160.90" y="389.70" width="7.16" height="7.04" fill="#fff0f4" />
<rect x="169.06" y="389.70" width="7.16" height="7.04" fill="#fff0f4" />
<rect x="177.22" y="389.70" width="7.16" height="7.04" fill="#ffecf1" />
<rect x="185.38" y="389.70" width="7.16" height="7.04" fill="#fee8ee" />
<rect x="193.54" y="389.70" width="7.16" height="7.04" fill="#fedfe7" />
<rect x="160.90" y="397.74" width="7.16" height="7.04" fill="#fff2f5" />
<rect x="169.06" y="397.74" width="7.16" height="7.04" fill="#fff0f4" />
<rect x="177.22" y="397.74" width="7.16" height="7.04" fill="#fee8ee" />
<rect x="185.38" y="397.74" width="7.16" height="7.04" fill="#fddbe4" />
<rect x="193.54" y="397.74" width="7.16" height="7.04" fill="#fccbd9" />
<rect x="160.90" y="405.78" width="7.16" height="7.04" fill="#fff2f5" />
<rect x="169.06" y="405.78" width="7.16" height="7.04" fill="#ffecf1" />
<rect x="177.22" y="405.78" width="7.16" height="7.04" fill="#fddbe4" />
<rect x="185.38" y="405.78" width="7.16" height="7.04" fill="#fbc1d2" />
<rect x="193.54" y="405.78" width="7.16" height="7.04" fill="#f9b3c7" />
<rect x="160.90" y="413.82" width="7.16" height="7.04" fill="#ffecf1" />
<rect x="169.06" y="413.82" width="7.16" height="7.04" fill="#fdd4e0" />
<rect x="177.22" y="413.82" width="7.16" height="7.04" fill="#f8aac1" />
<rect x="185.38" y="413.82" width="7.16" height="7.04" fill="#f388ac" />
<rect x="193.54" y="413.82" width="7.16" height="7.04" fill="#ef75a1" />
<rect x="160.90" y="421.86" width="7.16" height="7.04" fill="#fdd9e3" />
<rect x="169.06" y="421.86" width="7.16" height="7.04" fill="#f79eb8" />
<rect x="177.22" y="421.86" width="7.16" height="7.04" fill="#f17fa6" />
<rect x="185.38" y="421.86" width="7.16" height="7.04" fill="#ed6c9b" />
<rect x="193.54" y="421.86" width="7.16" height="7.04" fill="#e95890" />
<rect x="120.00" y="429.90" width="7.18" height="7.02" fill="#fff9fb" />
<rect x="128.18" y="429.90" width="7.18" height="7.02" fill="#fff9fb" />
<rect x="136.36" y="429.90" width="7.18" height="7.02" fill="#fff8fa" />
<rect x="144.54" y="429.90" width="7.18" height="7.02" fill="#fff4f7" />
<rect x="152.72" y="429.90" width="7.18" height="7.02" fill="#fee4ec" />
<rect x="120.00" y="437.92" width="7.18" height="7.02" fill="#fffbfc" />
<rect x="128.18" y="437.92" width="7.18" height="7.02" fill="#fffbfc" />
<rect x="136.36" y="437.92" width="7.18" height="7.02" fill="#fff6f8" />
<rect x="144.54" y="437.92" width="7.18" height="7.02" fill="#ffecf1" />
<rect x="152.72" y="437.92" width="7.18" height="7.02" fill="#fedfe7" />
<rect x="120.00" y="445.94" width="7.18" height="7.02" fill="#fff9fb" />
<rect x="128.18" y="445.94" width="7.18" height="7.02" fill="#fff6f8" />
<rect x="136.36" y="445.94" width="7.18" height="7.02" fill="#fee3ea" />
<rect x="144.54" y="445.94" width="7.18" height="7.02" fill="#fdd9e3" />
<rect x="152.72" y="445.94" width="7.18" height="7.02" fill="#fbc8d7" />
<rect x="120.00" y="453.96" width="7.18" height="7.02" fill="#fff6f8" />
<rect x="128.18" y="453.96" width="7.18" height="7.02" fill="#fee1e9" />
<rect x="136.36" y="453.96" width="7.18" height="7.02" fill="#fccdda" />
<rect x="144.54" y="453.96" width="7.18" height="7.02" fill="#fbc1d2" />
<rect x="152.72" y="453.96" width="7.18" height="7.02" fill="#f8aac1" />
<rect x="120.00" y="461.98" width="7.18" height="7.02" fill="#ffecf1" />
<rect x="128.18" y="461.98" width="7.18" height="7.02" fill="#fbc8d7" />
<rect x="136.36" y="461.98" width="7.18" height="7.02" fill="#fabacd" />
<rect x="144.54" y="461.98" width="7.18" height="7.02" fill="#f9b6c9" />
<rect x="152.72" y="461.98" width="7.18" height="7.02" fill="#f697b4" />
<rect x="160.90" y="429.90" width="7.16" height="7.02" fill="#fffbfc" />
<rect x="169.06" y="429.90" width="7.16" height="7.02" fill="#fff9fb" />
<rect x="177.22" y="429.90" width="7.16" height="7.02" fill="#fff4f7" />
<rect x="185.38" y="429.90" width="7.16" height="7.02" fill="#ffecf1" />
<rect x="193.54" y="429.90" width="7.16" height="7.02" fill="#fee3ea" />
<rect x="160.90" y="437.92" width="7.16" height="7.02" fill="#fffbfc" />
<rect x="169.06" y="437.92" width="7.16" height="7.02" fill="#fff8fa" />
<rect x="177.22" y="437.92" width="7.16" height="7.02" fill="#fff0f4" />
<rect x="185.38" y="437.92" width="7.16" height="7.02" fill="#fee3ea" />
<rect x="193.54" y="437.92" width="7.16" height="7.02" fill="#fdd4e0" />
<rect x="160.90" y="445.94" width="7.16" height="7.02" fill="#fffbfc" />
<rect x="169.06" y="445.94" width="7.16" height="7.02" fill="#fff4f7" />
<rect x="177.22" y="445.94" width="7.16" height="7.02" fill="#fddde6" />
<rect x="185.38" y="445.94" width="7.16" height="7.02" fill="#fccdda" />
<rect x="193.54" y="445.94" width="7.16" height="7.02" fill="#fbc1d2" />
<rect x="160.90" y="453.96" width="7.16" height="7.02" fill="#fff8fa" />
<rect x="169.06" y="453.96" width="7.16" height="7.02" fill="#fee3ea" />
<rect x="177.22" y="453.96" width="7.16" height="7.02" fill="#fccdda" />
<rect x="185.38" y="453.96" width="7.16" height="7.02" fill="#fbc1d2" />
<rect x="193.54" y="453.96" width="7.16" height="7.02" fill="#f8aac1" />
<rect x="160.90" y="461.98" width="7.16" height="7.02" fill="#fee6ed" />
<rect x="169.06" y="461.98" width="7.16" height="7.02" fill="#fabdce" />
<rect x="177.22" y="461.98" width="7.16" height="7.02" fill="#f9b3c7" />
<rect x="185.38" y="461.98" width="7.16" height="7.02" fill="#f8aac1" />
<rect x="193.54" y="461.98" width="7.16" height="7.02" fill="#f48dae" />
<rect x="119.50" y="389.20" width="40.90" height="40.20" fill="none" stroke="#222" stroke-width="1.0" />
<rect x="117.60" y="390.80" width="1.8" height="39.10" fill="url(#gy)"/>
<path d="M118.50,386.40 L116.00,393.00 L118.50,391.80 L121.00,393.00Z" fill="#475675" />
<rect x="117.60" y="434.00" width="1.8" height="36.80" fill="url(#gy)"/>
<path d="M118.50,429.60 L116.00,436.20 L118.50,435.00 L121.00,436.20Z" fill="#475675" />
<rect x="118.30" y="469.80" width="38.10" height="1.8" fill="url(#gx)"/>
<path d="M160.80,470.70 L154.20,468.20 L155.40,470.70 L154.20,473.20Z" fill="#475675" />
<rect x="161.20" y="469.80" width="36.80" height="1.8" fill="url(#gx)"/>
<path d="M202.40,470.70 L195.80,468.20 L197.00,470.70 L195.80,473.20Z" fill="#475675" />
<text x="157.10" y="380.70" font-size="9.3" text-anchor="middle">Data</text>
<text x="115.20" y="415.80" font-size="8.5" text-anchor="middle" transform="rotate(-90 115.20 415.80)" textLength="32.00" lengthAdjust="spacingAndGlyphs">Ratio 3.0</text>
<text x="115.20" y="456.25" font-size="8.5" text-anchor="middle" transform="rotate(-90 115.20 456.25)" textLength="31.00" lengthAdjust="spacingAndGlyphs">Ratio 1.5</text>
<text x="102.90" y="430.80" font-size="9.3" text-anchor="middle" transform="rotate(-90 102.90 430.80)" textLength="18.80" lengthAdjust="spacingAndGlyphs">Cost</text>
<text x="133.65" y="480.40" font-size="8.1" text-anchor="middle" textLength="23.00" lengthAdjust="spacingAndGlyphs">Punish</text>
<text x="173.80" y="480.40" font-size="8.1" text-anchor="middle" textLength="16.20" lengthAdjust="spacingAndGlyphs">Help</text>
<text x="157.90" y="492.60" font-size="9.0" text-anchor="middle" textLength="41.00" lengthAdjust="spacingAndGlyphs">Inequality</text>
<rect x="276.00" y="388.00" width="7.16" height="7.10" fill="#fff6f8" />
<rect x="284.16" y="388.00" width="7.16" height="7.10" fill="#fff9fb" />
<rect x="292.32" y="388.00" width="7.16" height="7.10" fill="#fff6f8" />
<rect x="300.48" y="388.00" width="7.16" height="7.10" fill="#fff2f5" />
<rect x="308.64" y="388.00" width="7.16" height="7.10" fill="#ffecf1" />
<rect x="276.00" y="396.10" width="7.16" height="7.10" fill="#fff8fa" />
<rect x="284.16" y="396.10" width="7.16" height="7.10" fill="#fffbfc" />
<rect x="292.32" y="396.10" width="7.16" height="7.10" fill="#fff8fa" />
<rect x="300.48" y="396.10" width="7.16" height="7.10" fill="#fff2f5" />
<rect x="308.64" y="396.10" width="7.16" height="7.10" fill="#fdd9e3" />
<rect x="276.00" y="404.20" width="7.16" height="7.10" fill="#fff8fa" />
<rect x="284.16" y="404.20" width="7.16" height="7.10" fill="#fff8fa" />
<rect x="292.32" y="404.20" width="7.16" height="7.10" fill="#fee3ea" />
<rect x="300.48" y="404.20" width="7.16" height="7.10" fill="#fbc6d5" />
<rect x="308.64" y="404.20" width="7.16" height="7.10" fill="#f79eb8" />
<rect x="276.00" y="412.30" width="7.16" height="7.10" fill="#fff6f8" />
<rect x="284.16" y="412.30" width="7.16" height="7.10" fill="#fee4ec" />
<rect x="292.32" y="412.30" width="7.16" height="7.10" fill="#f8a5bd" />
<rect x="300.48" y="412.30" width="7.16" height="7.10" fill="#e74b8a" />
<rect x="308.64" y="412.30" width="7.16" height="7.10" fill="#e44085" />
<rect x="276.00" y="420.40" width="7.16" height="7.10" fill="#fee3ea" />
<rect x="284.16" y="420.40" width="7.16" height="7.10" fill="#ef75a1" />
<rect x="292.32" y="420.40" width="7.16" height="7.10" fill="#e33982" />
<rect x="300.48" y="420.40" width="7.16" height="7.10" fill="#e23480" />
<rect x="308.64" y="420.40" width="7.16" height="7.10" fill="#df297b" />
<rect x="316.80" y="388.00" width="7.18" height="7.10" fill="#fff9fb" />
<rect x="324.98" y="388.00" width="7.18" height="7.10" fill="#fff9fb" />
<rect x="333.16" y="388.00" width="7.18" height="7.10" fill="#fff6f8" />
<rect x="341.34" y="388.00" width="7.18" height="7.10" fill="#fff0f4" />
<rect x="349.52" y="388.00" width="7.18" height="7.10" fill="#fee4ec" />
<rect x="316.80" y="396.10" width="7.18" height="7.10" fill="#fff9fb" />
<rect x="324.98" y="396.10" width="7.18" height="7.10" fill="#fff9fb" />
<rect x="333.16" y="396.10" width="7.18" height="7.10" fill="#fff4f7" />
<rect x="341.34" y="396.10" width="7.18" height="7.10" fill="#fee3ea" />
<rect x="349.52" y="396.10" width="7.18" height="7.10" fill="#fbc1d2" />
<rect x="316.80" y="404.20" width="7.18" height="7.10" fill="#fff9fb" />
<rect x="324.98" y="404.20" width="7.18" height="7.10" fill="#fff0f4" />
<rect x="333.16" y="404.20" width="7.18" height="7.10" fill="#fdd4e0" />
<rect x="341.34" y="404.20" width="7.18" height="7.10" fill="#f8aac1" />
<rect x="349.52" y="404.20" width="7.18" height="7.10" fill="#f286aa" />
<rect x="316.80" y="412.30" width="7.18" height="7.10" fill="#fff6f8" />
<rect x="324.98" y="412.30" width="7.18" height="7.10" fill="#fbc6d5" />
<rect x="333.16" y="412.30" width="7.18" height="7.10" fill="#ef75a1" />
<rect x="341.34" y="412.30" width="7.18" height="7.10" fill="#e74b8a" />
<rect x="349.52" y="412.30" width="7.18" height="7.10" fill="#e1307e" />
<rect x="316.80" y="420.40" width="7.18" height="7.10" fill="#fddde6" />
<rect x="324.98" y="420.40" width="7.18" height="7.10" fill="#ee6e9d" />
<rect x="333.16" y="420.40" width="7.18" height="7.10" fill="#e44085" />
<rect x="341.34" y="420.40" width="7.18" height="7.10" fill="#df297b" />
<rect x="349.52" y="420.40" width="7.18" height="7.10" fill="#de2579" />
<rect x="276.00" y="428.50" width="7.16" height="7.16" fill="#fff9fb" />
<rect x="284.16" y="428.50" width="7.16" height="7.16" fill="#fff9fb" />
<rect x="292.32" y="428.50" width="7.16" height="7.16" fill="#fff6f8" />
<rect x="300.48" y="428.50" width="7.16" height="7.16" fill="#fff0f4" />
<rect x="308.64" y="428.50" width="7.16" height="7.16" fill="#fbc6d5" />
<rect x="276.00" y="436.66" width="7.16" height="7.16" fill="#fffbfc" />
<rect x="284.16" y="436.66" width="7.16" height="7.16" fill="#fffbfc" />
<rect x="292.32" y="436.66" width="7.16" height="7.16" fill="#fff0f4" />
<rect x="300.48" y="436.66" width="7.16" height="7.16" fill="#fddde6" />
<rect x="308.64" y="436.66" width="7.16" height="7.16" fill="#f8aac1" />
<rect x="276.00" y="444.82" width="7.16" height="7.16" fill="#fffbfc" />
<rect x="284.16" y="444.82" width="7.16" height="7.16" fill="#fff6f8" />
<rect x="292.32" y="444.82" width="7.16" height="7.16" fill="#fabdce" />
<rect x="300.48" y="444.82" width="7.16" height="7.16" fill="#f8a5bd" />
<rect x="308.64" y="444.82" width="7.16" height="7.16" fill="#f17fa6" />
<rect x="276.00" y="452.98" width="7.16" height="7.16" fill="#fff6f8" />
<rect x="284.16" y="452.98" width="7.16" height="7.16" fill="#fabdce" />
<rect x="292.32" y="452.98" width="7.16" height="7.16" fill="#f07aa4" />
<rect x="300.48" y="452.98" width="7.16" height="7.16" fill="#ec6799" />
<rect x="308.64" y="452.98" width="7.16" height="7.16" fill="#e74b8a" />
<rect x="276.00" y="461.14" width="7.16" height="7.16" fill="#fee3ea" />
<rect x="284.16" y="461.14" width="7.16" height="7.16" fill="#f07aa4" />
<rect x="292.32" y="461.14" width="7.16" height="7.16" fill="#e64688" />
<rect x="300.48" y="461.14" width="7.16" height="7.16" fill="#e44085" />
<rect x="308.64" y="461.14" width="7.16" height="7.16" fill="#e33982" />
<rect x="316.80" y="428.50" width="7.18" height="7.16" fill="#fffbfc" />
<rect x="324.98" y="428.50" width="7.18" height="7.16" fill="#fffbfc" />
<rect x="333.16" y="428.50" width="7.18" height="7.16" fill="#fff8fa" />
<rect x="341.34" y="428.50" width="7.18" height="7.16" fill="#fff0f4" />
<rect x="349.52" y="428.50" width="7.18" height="7.16" fill="#fdd4e0" />
<rect x="316.80" y="436.66" width="7.18" height="7.16" fill="#fffbfc" />
<rect x="324.98" y="436.66" width="7.18" height="7.16" fill="#fffbfc" />
<rect x="333.16" y="436.66" width="7.18" height="7.16" fill="#fff4f7" />
<rect x="341.34" y="436.66" width="7.18" height="7.16" fill="#fdd9e3" />
<rect x="349.52" y="436.66" width="7.18" height="7.16" fill="#f9b6c9" />
<rect x="316.80" y="444.82" width="7.18" height="7.16" fill="#fffbfc" />
<rect x="324.98" y="444.82" width="7.18" height="7.16" fill="#fff6f8" />
<rect x="333.16" y="444.82" width="7.18" height="7.16" fill="#fbc6d5" />
<rect x="341.34" y="444.82" width="7.18" height="7.16" fill="#f79eb8" />
<rect x="349.52" y="444.82" width="7.18" height="7.16" fill="#f17fa6" />
<rect x="316.80" y="452.98" width="7.18" height="7.16" fill="#fff8fa" />
<rect x="324.98" y="452.98" width="7.18" height="7.16" fill="#f9afc4" />
<rect x="333.16" y="452.98" width="7.18" height="7.16" fill="#f17fa6" />
<rect x="341.34" y="452.98" width="7.18" height="7.16" fill="#eb6296" />
<rect x="349.52" y="452.98" width="7.18" height="7.16" fill="#e64688" />
<rect x="316.80" y="461.14" width="7.18" height="7.16" fill="#fee3ea" />
<rect x="324.98" y="461.14" width="7.18" height="7.16" fill="#ef75a1" />
<rect x="333.16" y="461.14" width="7.18" height="7.16" fill="#ea5d93" />
<rect x="341.34" y="461.14" width="7.18" height="7.16" fill="#e44085" />
<rect x="349.52" y="461.14" width="7.18" height="7.16" fill="#e44085" />
<line x1="316.30" y1="387.00" x2="316.30" y2="469.30" stroke="#5c5c5c" stroke-width="0.9" />
<line x1="275.00" y1="428.50" x2="357.70" y2="428.50" stroke="#555" stroke-width="1.0" />
<rect x="273.60" y="389.10" width="1.8" height="39.40" fill="url(#gy)"/>
<path d="M274.50,384.70 L272.00,391.30 L274.50,390.10 L277.00,391.30Z" fill="#475675" />
<rect x="273.60" y="432.60" width="1.8" height="37.90" fill="url(#gy)"/>
<path d="M274.50,428.20 L272.00,434.80 L274.50,433.60 L277.00,434.80Z" fill="#475675" />
<rect x="274.30" y="469.50" width="38.84" height="1.8" fill="url(#gx)"/>
<path d="M317.54,470.40 L310.94,467.90 L312.14,470.40 L310.94,472.90Z" fill="#475675" />
<rect x="317.10" y="469.50" width="37.74" height="1.8" fill="url(#gx)"/>
<path d="M359.24,470.40 L352.64,467.90 L353.84,470.40 L352.64,472.90Z" fill="#475675" />
<text x="271.20" y="414.25" font-size="8.5" text-anchor="middle" transform="rotate(-90 271.20 414.25)" textLength="32.00" lengthAdjust="spacingAndGlyphs">Ratio 3.0</text>
<text x="271.20" y="455.20" font-size="8.5" text-anchor="middle" transform="rotate(-90 271.20 455.20)" textLength="31.00" lengthAdjust="spacingAndGlyphs">Ratio 1.5</text>
<text x="258.90" y="429.40" font-size="9.3" text-anchor="middle" transform="rotate(-90 258.90 429.40)" textLength="18.80" lengthAdjust="spacingAndGlyphs">Cost</text>
<text x="291.00" y="480.10" font-size="8.1" text-anchor="middle" textLength="23.00" lengthAdjust="spacingAndGlyphs">Punish</text>
<text x="331.15" y="480.10" font-size="8.1" text-anchor="middle" textLength="16.20" lengthAdjust="spacingAndGlyphs">Help</text>
<text x="315.20" y="492.30" font-size="9.0" text-anchor="middle" textLength="41.00" lengthAdjust="spacingAndGlyphs">Inequality</text>
<rect x="423.00" y="388.10" width="7.14" height="7.08" fill="#fddde6" />
<rect x="431.14" y="388.10" width="7.14" height="7.08" fill="#fddde6" />
<rect x="439.28" y="388.10" width="7.14" height="7.08" fill="#fdd4e0" />
<rect x="447.42" y="388.10" width="7.14" height="7.08" fill="#fbc1d2" />
<rect x="455.56" y="388.10" width="7.14" height="7.08" fill="#fabdce" />
<rect x="423.00" y="396.18" width="7.14" height="7.08" fill="#fee4ec" />
<rect x="431.14" y="396.18" width="7.14" height="7.08" fill="#fddde6" />
<rect x="439.28" y="396.18" width="7.14" height="7.08" fill="#fccdda" />
<rect x="447.42" y="396.18" width="7.14" height="7.08" fill="#fbc6d5" />
<rect x="455.56" y="396.18" width="7.14" height="7.08" fill="#f9b6c9" />
<rect x="423.00" y="404.26" width="7.14" height="7.08" fill="#fee4ec" />
<rect x="431.14" y="404.26" width="7.14" height="7.08" fill="#fdd9e3" />
<rect x="439.28" y="404.26" width="7.14" height="7.08" fill="#fbc1d2" />
<rect x="447.42" y="404.26" width="7.14" height="7.08" fill="#f9b3c7" />
<rect x="455.56" y="404.26" width="7.14" height="7.08" fill="#f79eb8" />
<rect x="423.00" y="412.34" width="7.14" height="7.08" fill="#fee1e9" />
<rect x="431.14" y="412.34" width="7.14" height="7.08" fill="#fccbd9" />
<rect x="439.28" y="412.34" width="7.14" height="7.08" fill="#f9afc4" />
<rect x="447.42" y="412.34" width="7.14" height="7.08" fill="#f697b4" />
<rect x="455.56" y="412.34" width="7.14" height="7.08" fill="#f592b1" />
<rect x="423.00" y="420.42" width="7.14" height="7.08" fill="#fcd0dc" />
<rect x="431.14" y="420.42" width="7.14" height="7.08" fill="#fab8cb" />
<rect x="439.28" y="420.42" width="7.14" height="7.08" fill="#f7a0ba" />
<rect x="447.42" y="420.42" width="7.14" height="7.08" fill="#f48dae" />
<rect x="455.56" y="420.42" width="7.14" height="7.08" fill="#f286aa" />
<rect x="463.70" y="388.10" width="7.14" height="7.08" fill="#fbc1d2" />
<rect x="471.84" y="388.10" width="7.14" height="7.08" fill="#f9afc4" />
<rect x="479.98" y="388.10" width="7.14" height="7.08" fill="#f697b4" />
<rect x="488.12" y="388.10" width="7.14" height="7.08" fill="#f48dae" />
<rect x="496.26" y="388.10" width="7.14" height="7.08" fill="#ee6e9d" />
<rect x="463.70" y="396.18" width="7.14" height="7.08" fill="#f8aac1" />
<rect x="471.84" y="396.18" width="7.14" height="7.08" fill="#f8a5bd" />
<rect x="479.98" y="396.18" width="7.14" height="7.08" fill="#f286aa" />
<rect x="488.12" y="396.18" width="7.14" height="7.08" fill="#e84f8c" />
<rect x="496.26" y="396.18" width="7.14" height="7.08" fill="#e9568f" />
<rect x="463.70" y="404.26" width="7.14" height="7.08" fill="#f8aac1" />
<rect x="471.84" y="404.26" width="7.14" height="7.08" fill="#f7a0ba" />
<rect x="479.98" y="404.26" width="7.14" height="7.08" fill="#ea5d93" />
<rect x="488.12" y="404.26" width="7.14" height="7.08" fill="#e44085" />
<rect x="496.26" y="404.26" width="7.14" height="7.08" fill="#e74b8a" />
<rect x="463.70" y="412.34" width="7.14" height="7.08" fill="#f8a5bd" />
<rect x="471.84" y="412.34" width="7.14" height="7.08" fill="#f17fa6" />
<rect x="479.98" y="412.34" width="7.14" height="7.08" fill="#e9568f" />
<rect x="488.12" y="412.34" width="7.14" height="7.08" fill="#e1307e" />
<rect x="496.26" y="412.34" width="7.14" height="7.08" fill="#e44085" />
<rect x="463.70" y="420.42" width="7.14" height="7.08" fill="#f48dae" />
<rect x="471.84" y="420.42" width="7.14" height="7.08" fill="#eb6296" />
<rect x="479.98" y="420.42" width="7.14" height="7.08" fill="#e23480" />
<rect x="488.12" y="420.42" width="7.14" height="7.08" fill="#e23480" />
<rect x="496.26" y="420.42" width="7.14" height="7.08" fill="#e44085" />
<rect x="423.00" y="428.50" width="7.14" height="7.18" fill="#fff6f8" />
<rect x="431.14" y="428.50" width="7.14" height="7.18" fill="#fff4f7" />
<rect x="439.28" y="428.50" width="7.14" height="7.18" fill="#fff4f7" />
<rect x="447.42" y="428.50" width="7.14" height="7.18" fill="#fff0f4" />
<rect x="455.56" y="428.50" width="7.14" height="7.18" fill="#fee1e9" />
<rect x="423.00" y="436.68" width="7.14" height="7.18" fill="#ffecf1" />
<rect x="431.14" y="436.68" width="7.14" height="7.18" fill="#fff0f4" />
<rect x="439.28" y="436.68" width="7.14" height="7.18" fill="#ffecf1" />
<rect x="447.42" y="436.68" width="7.14" height="7.18" fill="#ffecf1" />
<rect x="455.56" y="436.68" width="7.14" height="7.18" fill="#fee1e9" />
<rect x="423.00" y="444.86" width="7.14" height="7.18" fill="#fff0f4" />
<rect x="431.14" y="444.86" width="7.14" height="7.18" fill="#ffecf1" />
<rect x="439.28" y="444.86" width="7.14" height="7.18" fill="#fee8ee" />
<rect x="447.42" y="444.86" width="7.14" height="7.18" fill="#fee3ea" />
<rect x="455.56" y="444.86" width="7.14" height="7.18" fill="#fddde6" />
<rect x="423.00" y="453.04" width="7.14" height="7.18" fill="#ffecf1" />
<rect x="431.14" y="453.04" width="7.14" height="7.18" fill="#fee8ee" />
<rect x="439.28" y="453.04" width="7.14" height="7.18" fill="#fddde6" />
<rect x="447.42" y="453.04" width="7.14" height="7.18" fill="#fddde6" />
<rect x="455.56" y="453.04" width="7.14" height="7.18" fill="#fcd0dc" />
<rect x="423.00" y="461.22" width="7.14" height="7.18" fill="#fee8ee" />
<rect x="431.14" y="461.22" width="7.14" height="7.18" fill="#fee1e9" />
<rect x="439.28" y="461.22" width="7.14" height="7.18" fill="#fdd9e3" />
<rect x="447.42" y="461.22" width="7.14" height="7.18" fill="#fdd9e3" />
<rect x="455.56" y="461.22" width="7.14" height="7.18" fill="#fbc1d2" />
<rect x="463.70" y="428.50" width="7.14" height="7.18" fill="#fee8ee" />
<rect x="471.84" y="428.50" width="7.14" height="7.18" fill="#fee8ee" />
<rect x="479.98" y="428.50" width="7.14" height="7.18" fill="#fee1e9" />
<rect x="488.12" y="428.50" width="7.14" height="7.18" fill="#fccdda" />
<rect x="496.26" y="428.50" width="7.14" height="7.18" fill="#f9afc4" />
<rect x="463.70" y="436.68" width="7.14" height="7.18" fill="#fee8ee" />
<rect x="471.84" y="436.68" width="7.14" height="7.18" fill="#fee8ee" />
<rect x="479.98" y="436.68" width="7.14" height="7.18" fill="#fccdda" />
<rect x="488.12" y="436.68" width="7.14" height="7.18" fill="#f9b6c9" />
<rect x="496.26" y="436.68" width="7.14" height="7.18" fill="#f9b6c9" />
<rect x="463.70" y="444.86" width="7.14" height="7.18" fill="#fee8ee" />
<rect x="471.84" y="444.86" width="7.14" height="7.18" fill="#fee4ec" />
<rect x="479.98" y="444.86" width="7.14" height="7.18" fill="#fbc6d5" />
<rect x="488.12" y="444.86" width="7.14" height="7.18" fill="#f9b6c9" />
<rect x="496.26" y="444.86" width="7.14" height="7.18" fill="#f9afc4" />
<rect x="463.70" y="453.04" width="7.14" height="7.18" fill="#fee3ea" />
<rect x="471.84" y="453.04" width="7.14" height="7.18" fill="#fdd9e3" />
<rect x="479.98" y="453.04" width="7.14" height="7.18" fill="#fbc1d2" />
<rect x="488.12" y="453.04" width="7.14" height="7.18" fill="#f9b6c9" />
<rect x="496.26" y="453.04" width="7.14" height="7.18" fill="#f8aac1" />
<rect x="463.70" y="461.22" width="7.14" height="7.18" fill="#fdd4e0" />
<rect x="471.84" y="461.22" width="7.14" height="7.18" fill="#fabdce" />
<rect x="479.98" y="461.22" width="7.14" height="7.18" fill="#f9b6c9" />
<rect x="488.12" y="461.22" width="7.14" height="7.18" fill="#f9b6c9" />
<rect x="496.26" y="461.22" width="7.14" height="7.18" fill="#f79eb8" />
<line x1="463.20" y1="387.10" x2="463.20" y2="469.40" stroke="#5c5c5c" stroke-width="0.9" />
<line x1="422.00" y1="428.50" x2="504.40" y2="428.50" stroke="#555" stroke-width="1.0" />
<rect x="420.60" y="389.20" width="1.8" height="39.30" fill="url(#gy)"/>
<path d="M421.50,384.80 L419.00,391.40 L421.50,390.20 L424.00,391.40Z" fill="#475675" />
<rect x="420.60" y="432.60" width="1.8" height="38.00" fill="url(#gy)"/>
<path d="M421.50,428.20 L419.00,434.80 L421.50,433.60 L424.00,434.80Z" fill="#475675" />
<rect x="421.30" y="469.60" width="38.74" height="1.8" fill="url(#gx)"/>
<path d="M464.44,470.50 L457.84,468.00 L459.04,470.50 L457.84,473.00Z" fill="#475675" />
<rect x="464.00" y="469.60" width="37.54" height="1.8" fill="url(#gx)"/>
<path d="M505.94,470.50 L499.34,468.00 L500.54,470.50 L499.34,473.00Z" fill="#475675" />
<text x="418.20" y="414.30" font-size="8.5" text-anchor="middle" transform="rotate(-90 418.20 414.30)" textLength="32.00" lengthAdjust="spacingAndGlyphs">Ratio 3.0</text>
<text x="418.20" y="455.25" font-size="8.5" text-anchor="middle" transform="rotate(-90 418.20 455.25)" textLength="31.00" lengthAdjust="spacingAndGlyphs">Ratio 1.5</text>
<text x="405.90" y="429.40" font-size="9.3" text-anchor="middle" transform="rotate(-90 405.90 429.40)" textLength="18.80" lengthAdjust="spacingAndGlyphs">Cost</text>
<text x="437.95" y="480.20" font-size="8.1" text-anchor="middle" textLength="23.00" lengthAdjust="spacingAndGlyphs">Punish</text>
<text x="477.95" y="480.20" font-size="8.1" text-anchor="middle" textLength="16.20" lengthAdjust="spacingAndGlyphs">Help</text>
<text x="462.10" y="492.40" font-size="9.0" text-anchor="middle" textLength="41.00" lengthAdjust="spacingAndGlyphs">Inequality</text>
<rect x="577.80" y="388.00" width="7.22" height="7.10" fill="#fffbfc" />
<rect x="586.02" y="388.00" width="7.22" height="7.10" fill="#fffbfc" />
<rect x="594.24" y="388.00" width="7.22" height="7.10" fill="#fffbfc" />
<rect x="602.46" y="388.00" width="7.22" height="7.10" fill="#fffbfc" />
<rect x="610.68" y="388.00" width="7.22" height="7.10" fill="#fff9fb" />
<rect x="577.80" y="396.10" width="7.22" height="7.10" fill="#fffdfe" />
<rect x="586.02" y="396.10" width="7.22" height="7.10" fill="#fffbfc" />
<rect x="594.24" y="396.10" width="7.22" height="7.10" fill="#fffbfc" />
<rect x="602.46" y="396.10" width="7.22" height="7.10" fill="#fff9fb" />
<rect x="610.68" y="396.10" width="7.22" height="7.10" fill="#fff9fb" />
<rect x="577.80" y="404.20" width="7.22" height="7.10" fill="#fffdfe" />
<rect x="586.02" y="404.20" width="7.22" height="7.10" fill="#fffdfe" />
<rect x="594.24" y="404.20" width="7.22" height="7.10" fill="#fffbfc" />
<rect x="602.46" y="404.20" width="7.22" height="7.10" fill="#fff8fa" />
<rect x="610.68" y="404.20" width="7.22" height="7.10" fill="#ffecf1" />
<rect x="577.80" y="412.30" width="7.22" height="7.10" fill="#fffbfc" />
<rect x="586.02" y="412.30" width="7.22" height="7.10" fill="#fffbfc" />
<rect x="594.24" y="412.30" width="7.22" height="7.10" fill="#fff0f4" />
<rect x="602.46" y="412.30" width="7.22" height="7.10" fill="#fee4ec" />
<rect x="610.68" y="412.30" width="7.22" height="7.10" fill="#fbc6d5" />
<rect x="577.80" y="420.40" width="7.22" height="7.10" fill="#fff4f7" />
<rect x="586.02" y="420.40" width="7.22" height="7.10" fill="#fee3ea" />
<rect x="594.24" y="420.40" width="7.22" height="7.10" fill="#fccdda" />
<rect x="602.46" y="420.40" width="7.22" height="7.10" fill="#fbc1d2" />
<rect x="610.68" y="420.40" width="7.22" height="7.10" fill="#f8a5bd" />
<rect x="618.90" y="388.00" width="7.08" height="7.10" fill="#fffbfc" />
<rect x="626.98" y="388.00" width="7.08" height="7.10" fill="#fffdfe" />
<rect x="635.06" y="388.00" width="7.08" height="7.10" fill="#fffbfc" />
<rect x="643.14" y="388.00" width="7.08" height="7.10" fill="#fff9fb" />
<rect x="651.22" y="388.00" width="7.08" height="7.10" fill="#fffbfc" />
<rect x="618.90" y="396.10" width="7.08" height="7.10" fill="#fffbfc" />
<rect x="626.98" y="396.10" width="7.08" height="7.10" fill="#fffdfe" />
<rect x="635.06" y="396.10" width="7.08" height="7.10" fill="#fffbfc" />
<rect x="643.14" y="396.10" width="7.08" height="7.10" fill="#fffbfc" />
<rect x="651.22" y="396.10" width="7.08" height="7.10" fill="#fff6f8" />
<rect x="618.90" y="404.20" width="7.08" height="7.10" fill="#fffbfc" />
<rect x="626.98" y="404.20" width="7.08" height="7.10" fill="#fffbfc" />
<rect x="635.06" y="404.20" width="7.08" height="7.10" fill="#fff9fb" />
<rect x="643.14" y="404.20" width="7.08" height="7.10" fill="#fff4f7" />
<rect x="651.22" y="404.20" width="7.08" height="7.10" fill="#fee8ee" />
<rect x="618.90" y="412.30" width="7.08" height="7.10" fill="#fff8fa" />
<rect x="626.98" y="412.30" width="7.08" height="7.10" fill="#fff4f7" />
<rect x="635.06" y="412.30" width="7.08" height="7.10" fill="#fee8ee" />
<rect x="643.14" y="412.30" width="7.08" height="7.10" fill="#fbc6d5" />
<rect x="651.22" y="412.30" width="7.08" height="7.10" fill="#f9b3c7" />
<rect x="618.90" y="420.40" width="7.08" height="7.10" fill="#fff0f4" />
<rect x="626.98" y="420.40" width="7.08" height="7.10" fill="#fccdda" />
<rect x="635.06" y="420.40" width="7.08" height="7.10" fill="#f9b6c9" />
<rect x="643.14" y="420.40" width="7.08" height="7.10" fill="#f8aac1" />
<rect x="651.22" y="420.40" width="7.08" height="7.10" fill="#f592b1" />
<rect x="577.80" y="428.50" width="7.22" height="7.16" fill="#fffdfe" />
<rect x="586.02" y="428.50" width="7.22" height="7.16" fill="#fffdfe" />
<rect x="594.24" y="428.50" width="7.22" height="7.16" fill="#fffdfe" />
<rect x="602.46" y="428.50" width="7.22" height="7.16" fill="#fffdfe" />
<rect x="610.68" y="428.50" width="7.22" height="7.16" fill="#fffbfc" />
<rect x="577.80" y="436.66" width="7.22" height="7.16" fill="#fffdfe" />
<rect x="586.02" y="436.66" width="7.22" height="7.16" fill="#fffdfe" />
<rect x="594.24" y="436.66" width="7.22" height="7.16" fill="#fffdfe" />
<rect x="602.46" y="436.66" width="7.22" height="7.16" fill="#fffdfe" />
<rect x="610.68" y="436.66" width="7.22" height="7.16" fill="#fffbfc" />
<rect x="577.80" y="444.82" width="7.22" height="7.16" fill="#fffdfe" />
<rect x="586.02" y="444.82" width="7.22" height="7.16" fill="#fffdfe" />
<rect x="594.24" y="444.82" width="7.22" height="7.16" fill="#fffdfe" />
<rect x="602.46" y="444.82" width="7.22" height="7.16" fill="#fffbfc" />
<rect x="610.68" y="444.82" width="7.22" height="7.16" fill="#fff9fb" />
<rect x="577.80" y="452.98" width="7.22" height="7.16" fill="#fffdfe" />
<rect x="586.02" y="452.98" width="7.22" height="7.16" fill="#fffdfe" />
<rect x="594.24" y="452.98" width="7.22" height="7.16" fill="#fffbfc" />
<rect x="602.46" y="452.98" width="7.22" height="7.16" fill="#fff6f8" />
<rect x="610.68" y="452.98" width="7.22" height="7.16" fill="#fee8ee" />
<rect x="577.80" y="461.14" width="7.22" height="7.16" fill="#fff8fa" />
<rect x="586.02" y="461.14" width="7.22" height="7.16" fill="#fff6f8" />
<rect x="594.24" y="461.14" width="7.22" height="7.16" fill="#fff0f4" />
<rect x="602.46" y="461.14" width="7.22" height="7.16" fill="#fee8ee" />
<rect x="610.68" y="461.14" width="7.22" height="7.16" fill="#fcd0dc" />
<rect x="618.90" y="428.50" width="7.08" height="7.16" fill="#ffffff" />
<rect x="626.98" y="428.50" width="7.08" height="7.16" fill="#fffdfe" />
<rect x="635.06" y="428.50" width="7.08" height="7.16" fill="#fffdfe" />
<rect x="643.14" y="428.50" width="7.08" height="7.16" fill="#fffdfe" />
<rect x="651.22" y="428.50" width="7.08" height="7.16" fill="#fffbfc" />
<rect x="618.90" y="436.66" width="7.08" height="7.16" fill="#fffdfe" />
<rect x="626.98" y="436.66" width="7.08" height="7.16" fill="#fffdfe" />
<rect x="635.06" y="436.66" width="7.08" height="7.16" fill="#fffdfe" />
<rect x="643.14" y="436.66" width="7.08" height="7.16" fill="#fffbfc" />
<rect x="651.22" y="436.66" width="7.08" height="7.16" fill="#fff6f8" />
<rect x="618.90" y="444.82" width="7.08" height="7.16" fill="#fffdfe" />
<rect x="626.98" y="444.82" width="7.08" height="7.16" fill="#fffdfe" />
<rect x="635.06" y="444.82" width="7.08" height="7.16" fill="#fffbfc" />
<rect x="643.14" y="444.82" width="7.08" height="7.16" fill="#fff9fb" />
<rect x="651.22" y="444.82" width="7.08" height="7.16" fill="#fff0f4" />
<rect x="618.90" y="452.98" width="7.08" height="7.16" fill="#fffdfe" />
<rect x="626.98" y="452.98" width="7.08" height="7.16" fill="#fffbfc" />
<rect x="635.06" y="452.98" width="7.08" height="7.16" fill="#fff8fa" />
<rect x="643.14" y="452.98" width="7.08" height="7.16" fill="#fff0f4" />
<rect x="651.22" y="452.98" width="7.08" height="7.16" fill="#fccdda" />
<rect x="618.90" y="461.14" width="7.08" height="7.16" fill="#fff9fb" />
<rect x="626.98" y="461.14" width="7.08" height="7.16" fill="#ffecf1" />
<rect x="635.06" y="461.14" width="7.08" height="7.16" fill="#fee8ee" />
<rect x="643.14" y="461.14" width="7.08" height="7.16" fill="#fddde6" />
<rect x="651.22" y="461.14" width="7.08" height="7.16" fill="#fbc1d2" />
<line x1="618.40" y1="387.00" x2="618.40" y2="469.30" stroke="#5c5c5c" stroke-width="0.9" />
<line x1="576.80" y1="428.50" x2="659.30" y2="428.50" stroke="#555" stroke-width="1.0" />
<rect x="575.40" y="389.10" width="1.8" height="39.40" fill="url(#gy)"/>
<path d="M576.30,384.70 L573.80,391.30 L576.30,390.10 L578.80,391.30Z" fill="#475675" />
<rect x="575.40" y="432.60" width="1.8" height="38.00" fill="url(#gy)"/>
<path d="M576.30,428.20 L573.80,434.80 L576.30,433.60 L578.80,434.80Z" fill="#475675" />
<rect x="576.10" y="469.60" width="38.66" height="1.8" fill="url(#gx)"/>
<path d="M619.16,470.50 L612.56,468.00 L613.76,470.50 L612.56,473.00Z" fill="#475675" />
<rect x="619.20" y="469.60" width="36.76" height="1.8" fill="url(#gx)"/>
<path d="M660.36,470.50 L653.76,468.00 L654.96,470.50 L653.76,473.00Z" fill="#475675" />
<text x="573.00" y="414.25" font-size="8.5" text-anchor="middle" transform="rotate(-90 573.00 414.25)" textLength="32.00" lengthAdjust="spacingAndGlyphs">Ratio 3.0</text>
<text x="573.00" y="455.20" font-size="8.5" text-anchor="middle" transform="rotate(-90 573.00 455.20)" textLength="31.00" lengthAdjust="spacingAndGlyphs">Ratio 1.5</text>
<text x="560.70" y="429.40" font-size="9.3" text-anchor="middle" transform="rotate(-90 560.70 429.40)" textLength="18.80" lengthAdjust="spacingAndGlyphs">Cost</text>
<text x="592.15" y="480.20" font-size="8.1" text-anchor="middle" textLength="23.00" lengthAdjust="spacingAndGlyphs">Punish</text>
<text x="632.20" y="480.20" font-size="8.1" text-anchor="middle" textLength="16.20" lengthAdjust="spacingAndGlyphs">Help</text>
<text x="616.50" y="492.40" font-size="9.0" text-anchor="middle" textLength="41.00" lengthAdjust="spacingAndGlyphs">Inequality</text>
<rect x="119.40" y="518.40" width="6.96" height="7.08" fill="#fff7f9" />
<rect x="127.36" y="518.40" width="6.96" height="7.08" fill="#fff5f8" />
<rect x="135.32" y="518.40" width="6.96" height="7.08" fill="#fff3f6" />
<rect x="143.28" y="518.40" width="6.96" height="7.08" fill="#fff3f6" />
<rect x="151.24" y="518.40" width="6.96" height="7.08" fill="#ffeff3" />
<rect x="119.40" y="526.48" width="6.96" height="7.08" fill="#fff7f9" />
<rect x="127.36" y="526.48" width="6.96" height="7.08" fill="#fff5f8" />
<rect x="135.32" y="526.48" width="6.96" height="7.08" fill="#fff3f6" />
<rect x="143.28" y="526.48" width="6.96" height="7.08" fill="#ffeff3" />
<rect x="151.24" y="526.48" width="6.96" height="7.08" fill="#fee2ea" />
<rect x="119.40" y="534.56" width="6.96" height="7.08" fill="#fff7f9" />
<rect x="127.36" y="534.56" width="6.96" height="7.08" fill="#fff3f6" />
<rect x="135.32" y="534.56" width="6.96" height="7.08" fill="#ffebf0" />
<rect x="143.28" y="534.56" width="6.96" height="7.08" fill="#fddae4" />
<rect x="151.24" y="534.56" width="6.96" height="7.08" fill="#fbc1d1" />
<rect x="119.40" y="542.64" width="6.96" height="7.08" fill="#fff1f5" />
<rect x="127.36" y="542.64" width="6.96" height="7.08" fill="#fee2ea" />
<rect x="135.32" y="542.64" width="6.96" height="7.08" fill="#fbc1d1" />
<rect x="143.28" y="542.64" width="6.96" height="7.08" fill="#f8a7bf" />
<rect x="151.24" y="542.64" width="6.96" height="7.08" fill="#f388ac" />
<rect x="119.40" y="550.72" width="6.96" height="7.08" fill="#fee2ea" />
<rect x="127.36" y="550.72" width="6.96" height="7.08" fill="#f7a2bb" />
<rect x="135.32" y="550.72" width="6.96" height="7.08" fill="#f595b3" />
<rect x="143.28" y="550.72" width="6.96" height="7.08" fill="#f48eaf" />
<rect x="151.24" y="550.72" width="6.96" height="7.08" fill="#ef74a0" />
<rect x="159.20" y="518.40" width="7.22" height="7.08" fill="#fff3f6" />
<rect x="167.42" y="518.40" width="7.22" height="7.08" fill="#fff1f5" />
<rect x="175.64" y="518.40" width="7.22" height="7.08" fill="#ffeff3" />
<rect x="183.86" y="518.40" width="7.22" height="7.08" fill="#ffebf0" />
<rect x="192.08" y="518.40" width="7.22" height="7.08" fill="#fee2ea" />
<rect x="159.20" y="526.48" width="7.22" height="7.08" fill="#fff3f6" />
<rect x="167.42" y="526.48" width="7.22" height="7.08" fill="#fff1f5" />
<rect x="175.64" y="526.48" width="7.22" height="7.08" fill="#ffebf0" />
<rect x="183.86" y="526.48" width="7.22" height="7.08" fill="#fee0e8" />
<rect x="192.08" y="526.48" width="7.22" height="7.08" fill="#fccbd9" />
<rect x="159.20" y="534.56" width="7.22" height="7.08" fill="#fff3f6" />
<rect x="167.42" y="534.56" width="7.22" height="7.08" fill="#ffeff3" />
<rect x="175.64" y="534.56" width="7.22" height="7.08" fill="#fddee7" />
<rect x="183.86" y="534.56" width="7.22" height="7.08" fill="#fbc1d1" />
<rect x="192.08" y="534.56" width="7.22" height="7.08" fill="#f8acc3" />
<rect x="159.20" y="542.64" width="7.22" height="7.08" fill="#ffeff3" />
<rect x="167.42" y="542.64" width="7.22" height="7.08" fill="#fdd5e0" />
<rect x="175.64" y="542.64" width="7.22" height="7.08" fill="#f8a7bf" />
<rect x="183.86" y="542.64" width="7.22" height="7.08" fill="#f388ac" />
<rect x="192.08" y="542.64" width="7.22" height="7.08" fill="#f07ba4" />
<rect x="159.20" y="550.72" width="7.22" height="7.08" fill="#fdd5e0" />
<rect x="167.42" y="550.72" width="7.22" height="7.08" fill="#f595b3" />
<rect x="175.64" y="550.72" width="7.22" height="7.08" fill="#f283a9" />
<rect x="183.86" y="550.72" width="7.22" height="7.08" fill="#ed699a" />
<rect x="192.08" y="550.72" width="7.22" height="7.08" fill="#e9558e" />
<rect x="119.40" y="558.80" width="6.96" height="7.06" fill="#fffafc" />
<rect x="127.36" y="558.80" width="6.96" height="7.06" fill="#fff8fa" />
<rect x="135.32" y="558.80" width="6.96" height="7.06" fill="#fff6f8" />
<rect x="143.28" y="558.80" width="6.96" height="7.06" fill="#fff4f7" />
<rect x="151.24" y="558.80" width="6.96" height="7.06" fill="#ffedf2" />
<rect x="119.40" y="566.86" width="6.96" height="7.06" fill="#fffafc" />
<rect x="127.36" y="566.86" width="6.96" height="7.06" fill="#fff8fa" />
<rect x="135.32" y="566.86" width="6.96" height="7.06" fill="#fff4f7" />
<rect x="143.28" y="566.86" width="6.96" height="7.06" fill="#ffedf2" />
<rect x="151.24" y="566.86" width="6.96" height="7.06" fill="#fee4eb" />
<rect x="119.40" y="574.92" width="6.96" height="7.06" fill="#fffafc" />
<rect x="127.36" y="574.92" width="6.96" height="7.06" fill="#fff6f8" />
<rect x="135.32" y="574.92" width="6.96" height="7.06" fill="#fee8ee" />
<rect x="143.28" y="574.92" width="6.96" height="7.06" fill="#fedfe8" />
<rect x="151.24" y="574.92" width="6.96" height="7.06" fill="#fdd5e0" />
<rect x="119.40" y="582.98" width="6.96" height="7.06" fill="#fff8fa" />
<rect x="127.36" y="582.98" width="6.96" height="7.06" fill="#fedfe8" />
<rect x="135.32" y="582.98" width="6.96" height="7.06" fill="#fcd0dc" />
<rect x="143.28" y="582.98" width="6.96" height="7.06" fill="#fbc4d4" />
<rect x="151.24" y="582.98" width="6.96" height="7.06" fill="#f9b3c7" />
<rect x="119.40" y="591.04" width="6.96" height="7.06" fill="#ffedf2" />
<rect x="127.36" y="591.04" width="6.96" height="7.06" fill="#fabfd0" />
<rect x="135.32" y="591.04" width="6.96" height="7.06" fill="#f9b3c7" />
<rect x="143.28" y="591.04" width="6.96" height="7.06" fill="#f9aec3" />
<rect x="151.24" y="591.04" width="6.96" height="7.06" fill="#f491b1" />
<rect x="159.20" y="558.80" width="7.22" height="7.06" fill="#fffafc" />
<rect x="167.42" y="558.80" width="7.22" height="7.06" fill="#fff8fa" />
<rect x="175.64" y="558.80" width="7.22" height="7.06" fill="#fff6f8" />
<rect x="183.86" y="558.80" width="7.22" height="7.06" fill="#fff2f5" />
<rect x="192.08" y="558.80" width="7.22" height="7.06" fill="#fee8ee" />
<rect x="159.20" y="566.86" width="7.22" height="7.06" fill="#fffafc" />
<rect x="167.42" y="566.86" width="7.22" height="7.06" fill="#fff8fa" />
<rect x="175.64" y="566.86" width="7.22" height="7.06" fill="#fff2f5" />
<rect x="183.86" y="566.86" width="7.22" height="7.06" fill="#fee8ee" />
<rect x="192.08" y="566.86" width="7.22" height="7.06" fill="#fedfe8" />
<rect x="159.20" y="574.92" width="7.22" height="7.06" fill="#fff8fa" />
<rect x="167.42" y="574.92" width="7.22" height="7.06" fill="#fff4f7" />
<rect x="175.64" y="574.92" width="7.22" height="7.06" fill="#fee4eb" />
<rect x="183.86" y="574.92" width="7.22" height="7.06" fill="#fddbe4" />
<rect x="192.08" y="574.92" width="7.22" height="7.06" fill="#fbcad8" />
<rect x="159.20" y="582.98" width="7.22" height="7.06" fill="#fff6f8" />
<rect x="167.42" y="582.98" width="7.22" height="7.06" fill="#fee4eb" />
<rect x="175.64" y="582.98" width="7.22" height="7.06" fill="#fcd0dc" />
<rect x="183.86" y="582.98" width="7.22" height="7.06" fill="#fabfd0" />
<rect x="192.08" y="582.98" width="7.22" height="7.06" fill="#f8a8bf" />
<rect x="159.20" y="591.04" width="7.22" height="7.06" fill="#fee8ee" />
<rect x="167.42" y="591.04" width="7.22" height="7.06" fill="#fab9cc" />
<rect x="175.64" y="591.04" width="7.22" height="7.06" fill="#f9aec3" />
<rect x="183.86" y="591.04" width="7.22" height="7.06" fill="#f79db7" />
<rect x="192.08" y="591.04" width="7.22" height="7.06" fill="#f388ac" />
<line x1="158.70" y1="517.40" x2="158.70" y2="599.10" stroke="#5c5c5c" stroke-width="0.9" />
<line x1="118.40" y1="558.50" x2="200.30" y2="558.50" stroke="#555" stroke-width="1.0" />
<rect x="117.00" y="519.50" width="1.8" height="39.30" fill="url(#gy)"/>
<path d="M117.90,515.10 L115.40,521.70 L117.90,520.50 L120.40,521.70Z" fill="#475675" />
<rect x="117.00" y="562.90" width="1.8" height="37.40" fill="url(#gy)"/>
<path d="M117.90,558.50 L115.40,565.10 L117.90,563.90 L120.40,565.10Z" fill="#475675" />
<rect x="117.70" y="599.30" width="37.84" height="1.8" fill="url(#gx)"/>
<path d="M159.94,600.20 L153.34,597.70 L154.54,600.20 L153.34,602.70Z" fill="#475675" />
<rect x="159.50" y="599.30" width="37.94" height="1.8" fill="url(#gx)"/>
<path d="M201.84,600.20 L195.24,597.70 L196.44,600.20 L195.24,602.70Z" fill="#475675" />
<text x="157.00" y="511.60" font-size="9.3" text-anchor="middle" textLength="71.50" lengthAdjust="spacingAndGlyphs">Model prediction</text>
<text x="114.60" y="544.60" font-size="8.5" text-anchor="middle" transform="rotate(-90 114.60 544.60)" textLength="32.00" lengthAdjust="spacingAndGlyphs">Ratio 3.0</text>
<text x="114.60" y="585.25" font-size="8.5" text-anchor="middle" transform="rotate(-90 114.60 585.25)" textLength="31.00" lengthAdjust="spacingAndGlyphs">Ratio 1.5</text>
<text x="102.30" y="559.70" font-size="9.3" text-anchor="middle" transform="rotate(-90 102.30 559.70)" textLength="18.80" lengthAdjust="spacingAndGlyphs">Cost</text>
<text x="133.90" y="609.90" font-size="8.1" text-anchor="middle" textLength="23.00" lengthAdjust="spacingAndGlyphs">Punish</text>
<text x="173.65" y="609.90" font-size="8.1" text-anchor="middle" textLength="16.20" lengthAdjust="spacingAndGlyphs">Help</text>
<text x="157.60" y="622.10" font-size="9.0" text-anchor="middle" textLength="41.00" lengthAdjust="spacingAndGlyphs">Inequality</text>
<rect x="276.70" y="517.00" width="7.16" height="7.14" fill="#fffdfe" />
<rect x="284.86" y="517.00" width="7.16" height="7.14" fill="#fffbfc" />
<rect x="293.02" y="517.00" width="7.16" height="7.14" fill="#fff6f8" />
<rect x="301.18" y="517.00" width="7.16" height="7.14" fill="#fff4f7" />
<rect x="309.34" y="517.00" width="7.16" height="7.14" fill="#ffecf1" />
<rect x="276.70" y="525.14" width="7.16" height="7.14" fill="#fffbfc" />
<rect x="284.86" y="525.14" width="7.16" height="7.14" fill="#fff9fb" />
<rect x="293.02" y="525.14" width="7.16" height="7.14" fill="#fff2f5" />
<rect x="301.18" y="525.14" width="7.16" height="7.14" fill="#fee8ee" />
<rect x="309.34" y="525.14" width="7.16" height="7.14" fill="#fdd4e0" />
<rect x="276.70" y="533.28" width="7.16" height="7.14" fill="#fffbfc" />
<rect x="284.86" y="533.28" width="7.16" height="7.14" fill="#fff9fb" />
<rect x="293.02" y="533.28" width="7.16" height="7.14" fill="#fee4ec" />
<rect x="301.18" y="533.28" width="7.16" height="7.14" fill="#f9b6c9" />
<rect x="309.34" y="533.28" width="7.16" height="7.14" fill="#f697b4" />
<rect x="276.70" y="541.42" width="7.16" height="7.14" fill="#fff6f8" />
<rect x="284.86" y="541.42" width="7.16" height="7.14" fill="#fdd9e3" />
<rect x="293.02" y="541.42" width="7.16" height="7.14" fill="#f592b1" />
<rect x="301.18" y="541.42" width="7.16" height="7.14" fill="#e84f8c" />
<rect x="309.34" y="541.42" width="7.16" height="7.14" fill="#e23480" />
<rect x="276.70" y="549.56" width="7.16" height="7.14" fill="#fee3ea" />
<rect x="284.86" y="549.56" width="7.16" height="7.14" fill="#f07aa4" />
<rect x="293.02" y="549.56" width="7.16" height="7.14" fill="#e33982" />
<rect x="301.18" y="549.56" width="7.16" height="7.14" fill="#e23480" />
<rect x="309.34" y="549.56" width="7.16" height="7.14" fill="#e1307e" />
<rect x="317.50" y="517.00" width="7.24" height="7.14" fill="#fffbfc" />
<rect x="325.74" y="517.00" width="7.24" height="7.14" fill="#fffdfe" />
<rect x="333.98" y="517.00" width="7.24" height="7.14" fill="#fff9fb" />
<rect x="342.22" y="517.00" width="7.24" height="7.14" fill="#fff8fa" />
<rect x="350.46" y="517.00" width="7.24" height="7.14" fill="#fee8ee" />
<rect x="317.50" y="525.14" width="7.24" height="7.14" fill="#fffbfc" />
<rect x="325.74" y="525.14" width="7.24" height="7.14" fill="#fff9fb" />
<rect x="333.98" y="525.14" width="7.24" height="7.14" fill="#fff0f4" />
<rect x="342.22" y="525.14" width="7.24" height="7.14" fill="#fddde6" />
<rect x="350.46" y="525.14" width="7.24" height="7.14" fill="#f9afc4" />
<rect x="317.50" y="533.28" width="7.24" height="7.14" fill="#fffbfc" />
<rect x="325.74" y="533.28" width="7.24" height="7.14" fill="#fff6f8" />
<rect x="333.98" y="533.28" width="7.24" height="7.14" fill="#fee1e9" />
<rect x="342.22" y="533.28" width="7.24" height="7.14" fill="#f79eb8" />
<rect x="350.46" y="533.28" width="7.24" height="7.14" fill="#f17fa6" />
<rect x="317.50" y="541.42" width="7.24" height="7.14" fill="#fff8fa" />
<rect x="325.74" y="541.42" width="7.24" height="7.14" fill="#fccdda" />
<rect x="333.98" y="541.42" width="7.24" height="7.14" fill="#f286aa" />
<rect x="342.22" y="541.42" width="7.24" height="7.14" fill="#e64688" />
<rect x="350.46" y="541.42" width="7.24" height="7.14" fill="#e33982" />
<rect x="317.50" y="549.56" width="7.24" height="7.14" fill="#fddde6" />
<rect x="325.74" y="549.56" width="7.24" height="7.14" fill="#ec6799" />
<rect x="333.98" y="549.56" width="7.24" height="7.14" fill="#e23480" />
<rect x="342.22" y="549.56" width="7.24" height="7.14" fill="#e1307e" />
<rect x="350.46" y="549.56" width="7.24" height="7.14" fill="#de2278" />
<rect x="276.70" y="557.70" width="7.16" height="7.10" fill="#fffbfc" />
<rect x="284.86" y="557.70" width="7.16" height="7.10" fill="#fffbfc" />
<rect x="293.02" y="557.70" width="7.16" height="7.10" fill="#fff6f8" />
<rect x="301.18" y="557.70" width="7.16" height="7.10" fill="#ffecf1" />
<rect x="309.34" y="557.70" width="7.16" height="7.10" fill="#fccdda" />
<rect x="276.70" y="565.80" width="7.16" height="7.10" fill="#fffbfc" />
<rect x="284.86" y="565.80" width="7.16" height="7.10" fill="#fff9fb" />
<rect x="293.02" y="565.80" width="7.16" height="7.10" fill="#ffecf1" />
<rect x="301.18" y="565.80" width="7.16" height="7.10" fill="#fccdda" />
<rect x="309.34" y="565.80" width="7.16" height="7.10" fill="#f8aac1" />
<rect x="276.70" y="573.90" width="7.16" height="7.10" fill="#fffbfc" />
<rect x="284.86" y="573.90" width="7.16" height="7.10" fill="#fff6f8" />
<rect x="293.02" y="573.90" width="7.16" height="7.10" fill="#f9b6c9" />
<rect x="301.18" y="573.90" width="7.16" height="7.10" fill="#f697b4" />
<rect x="309.34" y="573.90" width="7.16" height="7.10" fill="#f17fa6" />
<rect x="276.70" y="582.00" width="7.16" height="7.10" fill="#fff8fa" />
<rect x="284.86" y="582.00" width="7.16" height="7.10" fill="#f9b6c9" />
<rect x="293.02" y="582.00" width="7.16" height="7.10" fill="#f286aa" />
<rect x="301.18" y="582.00" width="7.16" height="7.10" fill="#ec6799" />
<rect x="309.34" y="582.00" width="7.16" height="7.10" fill="#e9568f" />
<rect x="276.70" y="590.10" width="7.16" height="7.10" fill="#fdd9e3" />
<rect x="284.86" y="590.10" width="7.16" height="7.10" fill="#ef75a1" />
<rect x="293.02" y="590.10" width="7.16" height="7.10" fill="#e64688" />
<rect x="301.18" y="590.10" width="7.16" height="7.10" fill="#e33982" />
<rect x="309.34" y="590.10" width="7.16" height="7.10" fill="#e44085" />
<rect x="317.50" y="557.70" width="7.24" height="7.10" fill="#fffdfe" />
<rect x="325.74" y="557.70" width="7.24" height="7.10" fill="#fffdfe" />
<rect x="333.98" y="557.70" width="7.24" height="7.10" fill="#fffbfc" />
<rect x="342.22" y="557.70" width="7.24" height="7.10" fill="#fff0f4" />
<rect x="350.46" y="557.70" width="7.24" height="7.10" fill="#fccdda" />
<rect x="317.50" y="565.80" width="7.24" height="7.10" fill="#fffbfc" />
<rect x="325.74" y="565.80" width="7.24" height="7.10" fill="#fff9fb" />
<rect x="333.98" y="565.80" width="7.24" height="7.10" fill="#fff6f8" />
<rect x="342.22" y="565.80" width="7.24" height="7.10" fill="#fbc1d2" />
<rect x="350.46" y="565.80" width="7.24" height="7.10" fill="#f8aac1" />
<rect x="317.50" y="573.90" width="7.24" height="7.10" fill="#fffbfc" />
<rect x="325.74" y="573.90" width="7.24" height="7.10" fill="#fff6f8" />
<rect x="333.98" y="573.90" width="7.24" height="7.10" fill="#fdd4e0" />
<rect x="342.22" y="573.90" width="7.24" height="7.10" fill="#f9afc4" />
<rect x="350.46" y="573.90" width="7.24" height="7.10" fill="#f17fa6" />
<rect x="317.50" y="582.00" width="7.24" height="7.10" fill="#fff6f8" />
<rect x="325.74" y="582.00" width="7.24" height="7.10" fill="#fbc1d2" />
<rect x="333.98" y="582.00" width="7.24" height="7.10" fill="#f286aa" />
<rect x="342.22" y="582.00" width="7.24" height="7.10" fill="#ec6799" />
<rect x="350.46" y="582.00" width="7.24" height="7.10" fill="#e44085" />
<rect x="317.50" y="590.10" width="7.24" height="7.10" fill="#fddde6" />
<rect x="325.74" y="590.10" width="7.24" height="7.10" fill="#ef75a1" />
<rect x="333.98" y="590.10" width="7.24" height="7.10" fill="#e74b8a" />
<rect x="342.22" y="590.10" width="7.24" height="7.10" fill="#e33982" />
<rect x="350.46" y="590.10" width="7.24" height="7.10" fill="#e33982" />
<line x1="317.00" y1="516.00" x2="317.00" y2="598.20" stroke="#5c5c5c" stroke-width="0.9" />
<line x1="275.70" y1="557.50" x2="358.70" y2="557.50" stroke="#555" stroke-width="1.0" />
<rect x="274.30" y="518.10" width="1.8" height="39.60" fill="url(#gy)"/>
<path d="M275.20,513.70 L272.70,520.30 L275.20,519.10 L277.70,520.30Z" fill="#475675" />
<rect x="274.30" y="561.80" width="1.8" height="37.60" fill="url(#gy)"/>
<path d="M275.20,557.40 L272.70,564.00 L275.20,562.80 L277.70,564.00Z" fill="#475675" />
<rect x="275.00" y="598.40" width="38.84" height="1.8" fill="url(#gx)"/>
<path d="M318.24,599.30 L311.64,596.80 L312.84,599.30 L311.64,601.80Z" fill="#475675" />
<rect x="317.80" y="598.40" width="38.04" height="1.8" fill="url(#gx)"/>
<path d="M360.24,599.30 L353.64,596.80 L354.84,599.30 L353.64,601.80Z" fill="#475675" />
<text x="271.90" y="543.35" font-size="8.5" text-anchor="middle" transform="rotate(-90 271.90 543.35)" textLength="32.00" lengthAdjust="spacingAndGlyphs">Ratio 3.0</text>
<text x="271.90" y="584.25" font-size="8.5" text-anchor="middle" transform="rotate(-90 271.90 584.25)" textLength="31.00" lengthAdjust="spacingAndGlyphs">Ratio 1.5</text>
<text x="259.60" y="558.60" font-size="9.3" text-anchor="middle" transform="rotate(-90 259.60 558.60)" textLength="18.80" lengthAdjust="spacingAndGlyphs">Cost</text>
<text x="291.70" y="609.00" font-size="8.1" text-anchor="middle" textLength="23.00" lengthAdjust="spacingAndGlyphs">Punish</text>
<text x="332.00" y="609.00" font-size="8.1" text-anchor="middle" textLength="16.20" lengthAdjust="spacingAndGlyphs">Help</text>
<text x="315.90" y="621.20" font-size="9.0" text-anchor="middle" textLength="41.00" lengthAdjust="spacingAndGlyphs">Inequality</text>
<rect x="423.00" y="517.00" width="7.14" height="7.14" fill="#fddde6" />
<rect x="431.14" y="517.00" width="7.14" height="7.14" fill="#fdd9e3" />
<rect x="439.28" y="517.00" width="7.14" height="7.14" fill="#fdd4e0" />
<rect x="447.42" y="517.00" width="7.14" height="7.14" fill="#fdd9e3" />
<rect x="455.56" y="517.00" width="7.14" height="7.14" fill="#fabdce" />
<rect x="423.00" y="525.14" width="7.14" height="7.14" fill="#fee4ec" />
<rect x="431.14" y="525.14" width="7.14" height="7.14" fill="#fddde6" />
<rect x="439.28" y="525.14" width="7.14" height="7.14" fill="#fcd0dc" />
<rect x="447.42" y="525.14" width="7.14" height="7.14" fill="#fab8cb" />
<rect x="455.56" y="525.14" width="7.14" height="7.14" fill="#f9b3c7" />
<rect x="423.00" y="533.28" width="7.14" height="7.14" fill="#fddde6" />
<rect x="431.14" y="533.28" width="7.14" height="7.14" fill="#fdd9e3" />
<rect x="439.28" y="533.28" width="7.14" height="7.14" fill="#fabdce" />
<rect x="447.42" y="533.28" width="7.14" height="7.14" fill="#f8aac1" />
<rect x="455.56" y="533.28" width="7.14" height="7.14" fill="#f8a5bd" />
<rect x="423.00" y="541.42" width="7.14" height="7.14" fill="#fddde6" />
<rect x="431.14" y="541.42" width="7.14" height="7.14" fill="#f9afc4" />
<rect x="439.28" y="541.42" width="7.14" height="7.14" fill="#f8aac1" />
<rect x="447.42" y="541.42" width="7.14" height="7.14" fill="#f8a5bd" />
<rect x="455.56" y="541.42" width="7.14" height="7.14" fill="#f592b1" />
<rect x="423.00" y="549.56" width="7.14" height="7.14" fill="#f9b3c7" />
<rect x="431.14" y="549.56" width="7.14" height="7.14" fill="#f79cb7" />
<rect x="439.28" y="549.56" width="7.14" height="7.14" fill="#f79cb7" />
<rect x="447.42" y="549.56" width="7.14" height="7.14" fill="#f7a0ba" />
<rect x="455.56" y="549.56" width="7.14" height="7.14" fill="#f48dae" />
<rect x="463.70" y="517.00" width="7.14" height="7.14" fill="#f8a5bd" />
<rect x="471.84" y="517.00" width="7.14" height="7.14" fill="#f9afc4" />
<rect x="479.98" y="517.00" width="7.14" height="7.14" fill="#f8aac1" />
<rect x="488.12" y="517.00" width="7.14" height="7.14" fill="#f17fa6" />
<rect x="496.26" y="517.00" width="7.14" height="7.14" fill="#ef75a1" />
<rect x="463.70" y="525.14" width="7.14" height="7.14" fill="#f8aac1" />
<rect x="471.84" y="525.14" width="7.14" height="7.14" fill="#f7a0ba" />
<rect x="479.98" y="525.14" width="7.14" height="7.14" fill="#f17fa6" />
<rect x="488.12" y="525.14" width="7.14" height="7.14" fill="#e84f8c" />
<rect x="496.26" y="525.14" width="7.14" height="7.14" fill="#e9568f" />
<rect x="463.70" y="533.28" width="7.14" height="7.14" fill="#f9afc4" />
<rect x="471.84" y="533.28" width="7.14" height="7.14" fill="#f592b1" />
<rect x="479.98" y="533.28" width="7.14" height="7.14" fill="#eb6296" />
<rect x="488.12" y="533.28" width="7.14" height="7.14" fill="#e9548e" />
<rect x="496.26" y="533.28" width="7.14" height="7.14" fill="#e74b8a" />
<rect x="463.70" y="541.42" width="7.14" height="7.14" fill="#f9afc4" />
<rect x="471.84" y="541.42" width="7.14" height="7.14" fill="#eb6296" />
<rect x="479.98" y="541.42" width="7.14" height="7.14" fill="#e9568f" />
<rect x="488.12" y="541.42" width="7.14" height="7.14" fill="#e74b8a" />
<rect x="496.26" y="541.42" width="7.14" height="7.14" fill="#e33982" />
<rect x="463.70" y="549.56" width="7.14" height="7.14" fill="#f17fa6" />
<rect x="471.84" y="549.56" width="7.14" height="7.14" fill="#e9568f" />
<rect x="479.98" y="549.56" width="7.14" height="7.14" fill="#e44085" />
<rect x="488.12" y="549.56" width="7.14" height="7.14" fill="#e84f8c" />
<rect x="496.26" y="549.56" width="7.14" height="7.14" fill="#e64688" />
<rect x="423.00" y="557.70" width="7.14" height="7.10" fill="#fff0f4" />
<rect x="431.14" y="557.70" width="7.14" height="7.10" fill="#fff0f4" />
<rect x="439.28" y="557.70" width="7.14" height="7.10" fill="#ffecf1" />
<rect x="447.42" y="557.70" width="7.14" height="7.10" fill="#fff0f4" />
<rect x="455.56" y="557.70" width="7.14" height="7.10" fill="#ffecf1" />
<rect x="423.00" y="565.80" width="7.14" height="7.10" fill="#fff9fb" />
<rect x="431.14" y="565.80" width="7.14" height="7.10" fill="#fff4f7" />
<rect x="439.28" y="565.80" width="7.14" height="7.10" fill="#fee8ee" />
<rect x="447.42" y="565.80" width="7.14" height="7.10" fill="#fff0f4" />
<rect x="455.56" y="565.80" width="7.14" height="7.10" fill="#fee8ee" />
<rect x="423.00" y="573.90" width="7.14" height="7.10" fill="#fff4f7" />
<rect x="431.14" y="573.90" width="7.14" height="7.10" fill="#ffecf1" />
<rect x="439.28" y="573.90" width="7.14" height="7.10" fill="#fee8ee" />
<rect x="447.42" y="573.90" width="7.14" height="7.10" fill="#fee4ec" />
<rect x="455.56" y="573.90" width="7.14" height="7.10" fill="#fee8ee" />
<rect x="423.00" y="582.00" width="7.14" height="7.10" fill="#fff6f8" />
<rect x="431.14" y="582.00" width="7.14" height="7.10" fill="#fee1e9" />
<rect x="439.28" y="582.00" width="7.14" height="7.10" fill="#fee1e9" />
<rect x="447.42" y="582.00" width="7.14" height="7.10" fill="#fddde6" />
<rect x="455.56" y="582.00" width="7.14" height="7.10" fill="#fdd4e0" />
<rect x="423.00" y="590.10" width="7.14" height="7.10" fill="#fee1e9" />
<rect x="431.14" y="590.10" width="7.14" height="7.10" fill="#fdd9e3" />
<rect x="439.28" y="590.10" width="7.14" height="7.10" fill="#fddde6" />
<rect x="447.42" y="590.10" width="7.14" height="7.10" fill="#fddde6" />
<rect x="455.56" y="590.10" width="7.14" height="7.10" fill="#fccbd9" />
<rect x="463.70" y="557.70" width="7.14" height="7.10" fill="#fee3ea" />
<rect x="471.84" y="557.70" width="7.14" height="7.10" fill="#fee8ee" />
<rect x="479.98" y="557.70" width="7.14" height="7.10" fill="#ffecf1" />
<rect x="488.12" y="557.70" width="7.14" height="7.10" fill="#fddde6" />
<rect x="496.26" y="557.70" width="7.14" height="7.10" fill="#fbc6d5" />
<rect x="463.70" y="565.80" width="7.14" height="7.10" fill="#fee8ee" />
<rect x="471.84" y="565.80" width="7.14" height="7.10" fill="#fee8ee" />
<rect x="479.98" y="565.80" width="7.14" height="7.10" fill="#fccdda" />
<rect x="488.12" y="565.80" width="7.14" height="7.10" fill="#fbc6d5" />
<rect x="496.26" y="565.80" width="7.14" height="7.10" fill="#fab8cb" />
<rect x="463.70" y="573.90" width="7.14" height="7.10" fill="#fddde6" />
<rect x="471.84" y="573.90" width="7.14" height="7.10" fill="#fee1e9" />
<rect x="479.98" y="573.90" width="7.14" height="7.10" fill="#fbc6d5" />
<rect x="488.12" y="573.90" width="7.14" height="7.10" fill="#fab8cb" />
<rect x="496.26" y="573.90" width="7.14" height="7.10" fill="#f9b3c7" />
<rect x="463.70" y="582.00" width="7.14" height="7.10" fill="#fee1e9" />
<rect x="471.84" y="582.00" width="7.14" height="7.10" fill="#fdd9e3" />
<rect x="479.98" y="582.00" width="7.14" height="7.10" fill="#fabdce" />
<rect x="488.12" y="582.00" width="7.14" height="7.10" fill="#fabdce" />
<rect x="496.26" y="582.00" width="7.14" height="7.10" fill="#f9afc4" />
<rect x="463.70" y="590.10" width="7.14" height="7.10" fill="#fab8cb" />
<rect x="471.84" y="590.10" width="7.14" height="7.10" fill="#fabdce" />
<rect x="479.98" y="590.10" width="7.14" height="7.10" fill="#f8a5bd" />
<rect x="488.12" y="590.10" width="7.14" height="7.10" fill="#f79cb7" />
<rect x="496.26" y="590.10" width="7.14" height="7.10" fill="#f79cb7" />
<line x1="463.20" y1="516.00" x2="463.20" y2="598.20" stroke="#5c5c5c" stroke-width="0.9" />
<line x1="422.00" y1="557.50" x2="504.40" y2="557.50" stroke="#555" stroke-width="1.0" />
<rect x="420.60" y="518.10" width="1.8" height="39.60" fill="url(#gy)"/>
<path d="M421.50,513.70 L419.00,520.30 L421.50,519.10 L424.00,520.30Z" fill="#475675" />
<rect x="420.60" y="561.80" width="1.8" height="37.60" fill="url(#gy)"/>
<path d="M421.50,557.40 L419.00,564.00 L421.50,562.80 L424.00,564.00Z" fill="#475675" />
<rect x="421.30" y="598.40" width="38.74" height="1.8" fill="url(#gx)"/>
<path d="M464.44,599.30 L457.84,596.80 L459.04,599.30 L457.84,601.80Z" fill="#475675" />
<rect x="464.00" y="598.40" width="37.54" height="1.8" fill="url(#gx)"/>
<path d="M505.94,599.30 L499.34,596.80 L500.54,599.30 L499.34,601.80Z" fill="#475675" />
<text x="418.20" y="543.35" font-size="8.5" text-anchor="middle" transform="rotate(-90 418.20 543.35)" textLength="32.00" lengthAdjust="spacingAndGlyphs">Ratio 3.0</text>
<text x="418.20" y="584.25" font-size="8.5" text-anchor="middle" transform="rotate(-90 418.20 584.25)" textLength="31.00" lengthAdjust="spacingAndGlyphs">Ratio 1.5</text>
<text x="405.90" y="558.60" font-size="9.3" text-anchor="middle" transform="rotate(-90 405.90 558.60)" textLength="18.80" lengthAdjust="spacingAndGlyphs">Cost</text>
<text x="437.95" y="609.00" font-size="8.1" text-anchor="middle" textLength="23.00" lengthAdjust="spacingAndGlyphs">Punish</text>
<text x="477.95" y="609.00" font-size="8.1" text-anchor="middle" textLength="16.20" lengthAdjust="spacingAndGlyphs">Help</text>
<text x="462.10" y="621.20" font-size="9.0" text-anchor="middle" textLength="41.00" lengthAdjust="spacingAndGlyphs">Inequality</text>
<rect x="578.10" y="517.00" width="7.04" height="7.14" fill="#fffdfe" />
<rect x="586.14" y="517.00" width="7.04" height="7.14" fill="#fffdfe" />
<rect x="594.18" y="517.00" width="7.04" height="7.14" fill="#fffdfe" />
<rect x="602.22" y="517.00" width="7.04" height="7.14" fill="#fffdfe" />
<rect x="610.26" y="517.00" width="7.04" height="7.14" fill="#fffbfc" />
<rect x="578.10" y="525.14" width="7.04" height="7.14" fill="#fffdfe" />
<rect x="586.14" y="525.14" width="7.04" height="7.14" fill="#fffbfc" />
<rect x="594.18" y="525.14" width="7.04" height="7.14" fill="#fffbfc" />
<rect x="602.22" y="525.14" width="7.04" height="7.14" fill="#fffbfc" />
<rect x="610.26" y="525.14" width="7.04" height="7.14" fill="#fff9fb" />
<rect x="578.10" y="533.28" width="7.04" height="7.14" fill="#fffbfc" />
<rect x="586.14" y="533.28" width="7.04" height="7.14" fill="#fffbfc" />
<rect x="594.18" y="533.28" width="7.04" height="7.14" fill="#fffbfc" />
<rect x="602.22" y="533.28" width="7.04" height="7.14" fill="#fff9fb" />
<rect x="610.26" y="533.28" width="7.04" height="7.14" fill="#fff0f4" />
<rect x="578.10" y="541.42" width="7.04" height="7.14" fill="#fffbfc" />
<rect x="586.14" y="541.42" width="7.04" height="7.14" fill="#fff9fb" />
<rect x="594.18" y="541.42" width="7.04" height="7.14" fill="#ffecf1" />
<rect x="602.22" y="541.42" width="7.04" height="7.14" fill="#fee4ec" />
<rect x="610.26" y="541.42" width="7.04" height="7.14" fill="#fbc6d5" />
<rect x="578.10" y="549.56" width="7.04" height="7.14" fill="#fff4f7" />
<rect x="586.14" y="549.56" width="7.04" height="7.14" fill="#fddde6" />
<rect x="594.18" y="549.56" width="7.04" height="7.14" fill="#fccdda" />
<rect x="602.22" y="549.56" width="7.04" height="7.14" fill="#fbc1d2" />
<rect x="610.26" y="549.56" width="7.04" height="7.14" fill="#f9b3c7" />
<rect x="618.30" y="517.00" width="7.24" height="7.14" fill="#fffdfe" />
<rect x="626.54" y="517.00" width="7.24" height="7.14" fill="#fffdfe" />
<rect x="634.78" y="517.00" width="7.24" height="7.14" fill="#fffdfe" />
<rect x="643.02" y="517.00" width="7.24" height="7.14" fill="#fffdfe" />
<rect x="651.26" y="517.00" width="7.24" height="7.14" fill="#fffbfc" />
<rect x="618.30" y="525.14" width="7.24" height="7.14" fill="#fffdfe" />
<rect x="626.54" y="525.14" width="7.24" height="7.14" fill="#fffdfe" />
<rect x="634.78" y="525.14" width="7.24" height="7.14" fill="#fffdfe" />
<rect x="643.02" y="525.14" width="7.24" height="7.14" fill="#fffbfc" />
<rect x="651.26" y="525.14" width="7.24" height="7.14" fill="#fff9fb" />
<rect x="618.30" y="533.28" width="7.24" height="7.14" fill="#fffbfc" />
<rect x="626.54" y="533.28" width="7.24" height="7.14" fill="#fffbfc" />
<rect x="634.78" y="533.28" width="7.24" height="7.14" fill="#fff9fb" />
<rect x="643.02" y="533.28" width="7.24" height="7.14" fill="#fff2f5" />
<rect x="651.26" y="533.28" width="7.24" height="7.14" fill="#fee8ee" />
<rect x="618.30" y="541.42" width="7.24" height="7.14" fill="#fffbfc" />
<rect x="626.54" y="541.42" width="7.24" height="7.14" fill="#fff8fa" />
<rect x="634.78" y="541.42" width="7.24" height="7.14" fill="#fee8ee" />
<rect x="643.02" y="541.42" width="7.24" height="7.14" fill="#fccdda" />
<rect x="651.26" y="541.42" width="7.24" height="7.14" fill="#fabdce" />
<rect x="618.30" y="549.56" width="7.24" height="7.14" fill="#fff0f4" />
<rect x="626.54" y="549.56" width="7.24" height="7.14" fill="#fccdda" />
<rect x="634.78" y="549.56" width="7.24" height="7.14" fill="#f8aac1" />
<rect x="643.02" y="549.56" width="7.24" height="7.14" fill="#f79cb7" />
<rect x="651.26" y="549.56" width="7.24" height="7.14" fill="#f697b4" />
<rect x="578.10" y="557.70" width="7.04" height="7.10" fill="#ffffff" />
<rect x="586.14" y="557.70" width="7.04" height="7.10" fill="#fffdfe" />
<rect x="594.18" y="557.70" width="7.04" height="7.10" fill="#fffdfe" />
<rect x="602.22" y="557.70" width="7.04" height="7.10" fill="#ffffff" />
<rect x="610.26" y="557.70" width="7.04" height="7.10" fill="#fffdfe" />
<rect x="578.10" y="565.80" width="7.04" height="7.10" fill="#fffdfe" />
<rect x="586.14" y="565.80" width="7.04" height="7.10" fill="#fffdfe" />
<rect x="594.18" y="565.80" width="7.04" height="7.10" fill="#ffffff" />
<rect x="602.22" y="565.80" width="7.04" height="7.10" fill="#ffffff" />
<rect x="610.26" y="565.80" width="7.04" height="7.10" fill="#fffdfe" />
<rect x="578.10" y="573.90" width="7.04" height="7.10" fill="#fffdfe" />
<rect x="586.14" y="573.90" width="7.04" height="7.10" fill="#fffdfe" />
<rect x="594.18" y="573.90" width="7.04" height="7.10" fill="#fffdfe" />
<rect x="602.22" y="573.90" width="7.04" height="7.10" fill="#fffdfe" />
<rect x="610.26" y="573.90" width="7.04" height="7.10" fill="#fffbfc" />
<rect x="578.10" y="582.00" width="7.04" height="7.10" fill="#fffdfe" />
<rect x="586.14" y="582.00" width="7.04" height="7.10" fill="#fffbfc" />
<rect x="594.18" y="582.00" width="7.04" height="7.10" fill="#fffbfc" />
<rect x="602.22" y="582.00" width="7.04" height="7.10" fill="#fff4f7" />
<rect x="610.26" y="582.00" width="7.04" height="7.10" fill="#fff0f4" />
<rect x="578.10" y="590.10" width="7.04" height="7.10" fill="#fff8fa" />
<rect x="586.14" y="590.10" width="7.04" height="7.10" fill="#ffecf1" />
<rect x="594.18" y="590.10" width="7.04" height="7.10" fill="#fee4ec" />
<rect x="602.22" y="590.10" width="7.04" height="7.10" fill="#fee8ee" />
<rect x="610.26" y="590.10" width="7.04" height="7.10" fill="#fdd4e0" />
<rect x="618.30" y="557.70" width="7.24" height="7.10" fill="#ffffff" />
<rect x="626.54" y="557.70" width="7.24" height="7.10" fill="#ffffff" />
<rect x="634.78" y="557.70" width="7.24" height="7.10" fill="#ffffff" />
<rect x="643.02" y="557.70" width="7.24" height="7.10" fill="#ffffff" />
<rect x="651.26" y="557.70" width="7.24" height="7.10" fill="#fffdfe" />
<rect x="618.30" y="565.80" width="7.24" height="7.10" fill="#ffffff" />
<rect x="626.54" y="565.80" width="7.24" height="7.10" fill="#fffdfe" />
<rect x="634.78" y="565.80" width="7.24" height="7.10" fill="#ffffff" />
<rect x="643.02" y="565.80" width="7.24" height="7.10" fill="#ffffff" />
<rect x="651.26" y="565.80" width="7.24" height="7.10" fill="#fffbfc" />
<rect x="618.30" y="573.90" width="7.24" height="7.10" fill="#ffffff" />
<rect x="626.54" y="573.90" width="7.24" height="7.10" fill="#fffdfe" />
<rect x="634.78" y="573.90" width="7.24" height="7.10" fill="#fffdfe" />
<rect x="643.02" y="573.90" width="7.24" height="7.10" fill="#fffdfe" />
<rect x="651.26" y="573.90" width="7.24" height="7.10" fill="#fff9fb" />
<rect x="618.30" y="582.00" width="7.24" height="7.10" fill="#fffdfe" />
<rect x="626.54" y="582.00" width="7.24" height="7.10" fill="#fffdfe" />
<rect x="634.78" y="582.00" width="7.24" height="7.10" fill="#fff8fa" />
<rect x="643.02" y="582.00" width="7.24" height="7.10" fill="#fff4f7" />
<rect x="651.26" y="582.00" width="7.24" height="7.10" fill="#fee4ec" />
<rect x="618.30" y="590.10" width="7.24" height="7.10" fill="#fff8fa" />
<rect x="626.54" y="590.10" width="7.24" height="7.10" fill="#fff0f4" />
<rect x="634.78" y="590.10" width="7.24" height="7.10" fill="#fee4ec" />
<rect x="643.02" y="590.10" width="7.24" height="7.10" fill="#fee3ea" />
<rect x="651.26" y="590.10" width="7.24" height="7.10" fill="#fdd4e0" />
<line x1="617.80" y1="516.00" x2="617.80" y2="598.20" stroke="#5c5c5c" stroke-width="0.9" />
<line x1="577.10" y1="557.50" x2="659.50" y2="557.50" stroke="#555" stroke-width="1.0" />
<rect x="575.70" y="518.10" width="1.8" height="39.60" fill="url(#gy)"/>
<path d="M576.60,513.70 L574.10,520.30 L576.60,519.10 L579.10,520.30Z" fill="#475675" />
<rect x="575.70" y="561.80" width="1.8" height="37.60" fill="url(#gy)"/>
<path d="M576.60,557.40 L574.10,564.00 L576.60,562.80 L579.10,564.00Z" fill="#475675" />
<rect x="576.40" y="598.40" width="38.24" height="1.8" fill="url(#gx)"/>
<path d="M619.04,599.30 L612.44,596.80 L613.64,599.30 L612.44,601.80Z" fill="#475675" />
<rect x="618.60" y="598.40" width="38.04" height="1.8" fill="url(#gx)"/>
<path d="M661.04,599.30 L654.44,596.80 L655.64,599.30 L654.44,601.80Z" fill="#475675" />
<text x="573.30" y="543.35" font-size="8.5" text-anchor="middle" transform="rotate(-90 573.30 543.35)" textLength="32.00" lengthAdjust="spacingAndGlyphs">Ratio 3.0</text>
<text x="573.30" y="584.25" font-size="8.5" text-anchor="middle" transform="rotate(-90 573.30 584.25)" textLength="31.00" lengthAdjust="spacingAndGlyphs">Ratio 1.5</text>
<text x="561.00" y="558.60" font-size="9.3" text-anchor="middle" transform="rotate(-90 561.00 558.60)" textLength="18.80" lengthAdjust="spacingAndGlyphs">Cost</text>
<text x="592.80" y="609.00" font-size="8.1" text-anchor="middle" textLength="23.00" lengthAdjust="spacingAndGlyphs">Punish</text>
<text x="632.80" y="609.00" font-size="8.1" text-anchor="middle" textLength="16.20" lengthAdjust="spacingAndGlyphs">Help</text>
<text x="616.70" y="621.20" font-size="9.0" text-anchor="middle" textLength="41.00" lengthAdjust="spacingAndGlyphs">Inequality</text>
<text x="508.00" y="412.70" font-size="8.7"><tspan font-style="italic">P</tspan> (yes)</text>
<rect x="511.00" y="420.80" width="5.80" height="29.40" fill="url(#cb)" />
<line x1="516.80" y1="420.90" x2="519.40" y2="420.90" stroke="#555" stroke-width="0.6" />
<text x="522.00" y="423.30" font-size="7.6" textLength="15.00" lengthAdjust="spacingAndGlyphs">1.00</text>
<line x1="516.80" y1="428.40" x2="519.40" y2="428.40" stroke="#555" stroke-width="0.6" />
<text x="522.00" y="430.80" font-size="7.6" textLength="15.00" lengthAdjust="spacingAndGlyphs">0.75</text>
<line x1="516.80" y1="435.90" x2="519.40" y2="435.90" stroke="#555" stroke-width="0.6" />
<text x="522.00" y="438.30" font-size="7.6" textLength="15.00" lengthAdjust="spacingAndGlyphs">0.50</text>
<line x1="516.80" y1="443.30" x2="519.40" y2="443.30" stroke="#555" stroke-width="0.6" />
<text x="522.00" y="445.70" font-size="7.6" textLength="15.00" lengthAdjust="spacingAndGlyphs">0.25</text>
<line x1="516.80" y1="450.80" x2="519.40" y2="450.80" stroke="#555" stroke-width="0.6" />
<text x="522.00" y="453.20" font-size="7.6">0</text>
<text x="94.20" y="643.50" font-size="12.4" font-weight="bold" fill="#000" stroke="#000" stroke-width="0.55" stroke-linejoin="round">m</text>
<rect x="141.20" y="666.90" width="17.50" height="64.70" fill="#d3d3d3" />
<rect x="162.90" y="663.20" width="17.30" height="68.40" fill="#d3d3d3" />
<rect x="184.40" y="720.90" width="17.50" height="10.70" fill="#d3d3d3" />
<line x1="124.50" y1="651.00" x2="124.50" y2="731.60" stroke="#6c6c6c" stroke-width="0.8" />
<line x1="124.00" y1="731.50" x2="219.50" y2="731.50" stroke="#6c6c6c" stroke-width="0.8" />
<line x1="124.40" y1="653.50" x2="127.40" y2="653.50" stroke="#6c6c6c" stroke-width="0.8" />
<text x="120.20" y="656.30" font-size="7.9" text-anchor="end" textLength="11.42" lengthAdjust="spacingAndGlyphs">0.4</text>
<line x1="124.40" y1="675.50" x2="127.40" y2="675.50" stroke="#6c6c6c" stroke-width="0.8" />
<text x="120.20" y="678.00" font-size="7.9" text-anchor="end" textLength="11.42" lengthAdjust="spacingAndGlyphs">0.3</text>
<line x1="124.40" y1="697.50" x2="127.40" y2="697.50" stroke="#6c6c6c" stroke-width="0.8" />
<text x="120.20" y="700.00" font-size="7.9" text-anchor="end" textLength="11.42" lengthAdjust="spacingAndGlyphs">0.2</text>
<line x1="124.40" y1="719.50" x2="127.40" y2="719.50" stroke="#6c6c6c" stroke-width="0.8" />
<text x="120.20" y="721.90" font-size="7.9" text-anchor="end" textLength="11.42" lengthAdjust="spacingAndGlyphs">0.1</text>
<line x1="149.50" y1="731.60" x2="149.50" y2="729.00" stroke="#6c6c6c" stroke-width="0.8" />
<text x="149.80" y="743.00" font-size="9.3" text-anchor="middle">J</text>
<line x1="171.50" y1="731.60" x2="171.50" y2="729.00" stroke="#6c6c6c" stroke-width="0.8" />
<text x="171.60" y="743.00" font-size="9.3" text-anchor="middle">P</text>
<line x1="193.50" y1="731.60" x2="193.50" y2="729.00" stroke="#6c6c6c" stroke-width="0.8" />
<text x="193.30" y="743.00" font-size="9.3" text-anchor="middle">R</text>
<text x="101.40" y="691.90" font-size="9.2" text-anchor="middle" transform="rotate(-90 101.40 691.90)">Overall <tspan font-style="italic">P</tspan> (yes)</text>
<text x="168.80" y="657.60" font-size="10.5" text-anchor="middle" font-family='"Liberation Serif", serif' font-style="italic" stroke="#1a1a1a" stroke-width="0.2">κ</text>
<line x1="178.10" y1="661.50" x2="178.10" y2="652.50" stroke="#3f4d6b" stroke-width="0.9" />
<path d="M178.10,649.20 L179.80,653.00 L176.40,653.00Z" fill="#3f4d6b" />
<text x="193.30" y="711.20" font-size="10.5" text-anchor="middle"><tspan font-family='"Liberation Serif", serif' font-style="italic" font-size="10.5" stroke="#1a1a1a" stroke-width="0.2">η</tspan><tspan font-size="6.3" dy="2.73">no</tspan></text>
<line x1="206.40" y1="703.60" x2="206.40" y2="714.30" stroke="#3f4d6b" stroke-width="0.9" />
<path d="M206.40,717.60 L204.70,713.80 L208.10,713.80Z" fill="#3f4d6b" />
<text x="242.00" y="643.50" font-size="12.4" font-weight="bold" fill="#000" stroke="#000" stroke-width="0.55" stroke-linejoin="round">n</text>
<line x1="274.60" y1="720.70" x2="369.60" y2="720.70" stroke="#999" stroke-width="0.8" />
<rect x="291.90" y="720.90" width="17.20" height="6.70" fill="#b29dfa" />
<rect x="313.60" y="656.20" width="17.30" height="64.70" fill="#b29dfa" />
<rect x="335.10" y="659.20" width="17.50" height="61.70" fill="#b29dfa" />
<line x1="274.50" y1="652.20" x2="274.50" y2="731.60" stroke="#6c6c6c" stroke-width="0.8" />
<line x1="274.20" y1="731.50" x2="369.60" y2="731.50" stroke="#6c6c6c" stroke-width="0.8" />
<line x1="274.60" y1="654.50" x2="277.60" y2="654.50" stroke="#6c6c6c" stroke-width="0.8" />
<text x="270.40" y="656.80" font-size="7.9" text-anchor="end" textLength="11.42" lengthAdjust="spacingAndGlyphs">0.8</text>
<line x1="274.60" y1="670.50" x2="277.60" y2="670.50" stroke="#6c6c6c" stroke-width="0.8" />
<text x="270.40" y="673.30" font-size="7.9" text-anchor="end" textLength="11.42" lengthAdjust="spacingAndGlyphs">0.6</text>
<line x1="274.60" y1="687.50" x2="277.60" y2="687.50" stroke="#6c6c6c" stroke-width="0.8" />
<text x="270.40" y="690.20" font-size="7.9" text-anchor="end" textLength="11.42" lengthAdjust="spacingAndGlyphs">0.4</text>
<line x1="274.60" y1="704.50" x2="277.60" y2="704.50" stroke="#6c6c6c" stroke-width="0.8" />
<text x="270.40" y="707.00" font-size="7.9" text-anchor="end" textLength="11.42" lengthAdjust="spacingAndGlyphs">0.2</text>
<line x1="274.60" y1="720.50" x2="277.60" y2="720.50" stroke="#6c6c6c" stroke-width="0.8" />
<text x="270.40" y="723.60" font-size="7.9" text-anchor="end" textLength="4.57" lengthAdjust="spacingAndGlyphs">0</text>
<line x1="300.50" y1="731.60" x2="300.50" y2="729.00" stroke="#6c6c6c" stroke-width="0.8" />
<text x="300.50" y="743.00" font-size="9.3" text-anchor="middle">J</text>
<line x1="322.50" y1="731.60" x2="322.50" y2="729.00" stroke="#6c6c6c" stroke-width="0.8" />
<text x="322.20" y="743.00" font-size="9.3" text-anchor="middle">P</text>
<line x1="343.50" y1="731.60" x2="343.50" y2="729.00" stroke="#6c6c6c" stroke-width="0.8" />
<text x="343.70" y="743.00" font-size="9.3" text-anchor="middle">R</text>
<text x="250.20" y="691.90" font-size="9.3" text-anchor="middle" transform="rotate(-90 250.20 691.90)" textLength="65.00" lengthAdjust="spacingAndGlyphs">Ratio sensitivity</text>
<text x="296.80" y="711.20" font-size="10.5" text-anchor="middle"><tspan font-family='"Liberation Serif", serif' font-style="italic" font-size="10.5" stroke="#1a1a1a" stroke-width="0.2">η</tspan><tspan font-size="6.3" dy="2.73">yes</tspan></text>
<line x1="309.10" y1="702.40" x2="309.10" y2="712.70" stroke="#3f4d6b" stroke-width="0.9" />
<path d="M309.10,716.00 L307.40,712.20 L310.80,712.20Z" fill="#3f4d6b" />
<text x="318.30" y="650.00" font-size="10.5" text-anchor="middle" font-family='"Liberation Serif", serif' font-style="italic" stroke="#1a1a1a" stroke-width="0.2">κ</text>
<line x1="328.50" y1="654.50" x2="328.50" y2="645.40" stroke="#3f4d6b" stroke-width="0.9" />
<path d="M328.50,642.10 L330.20,645.90 L326.80,645.90Z" fill="#3f4d6b" />
<text x="343.50" y="653.80" font-size="10.5" text-anchor="middle"><tspan font-family='"Liberation Serif", serif' font-style="italic" font-size="10.5" stroke="#1a1a1a" stroke-width="0.2">η</tspan><tspan font-size="6.3" dy="2.73">no</tspan></text>
<line x1="354.50" y1="658.00" x2="354.50" y2="648.50" stroke="#3f4d6b" stroke-width="0.9" />
<path d="M354.50,645.20 L356.20,649.00 L352.80,649.00Z" fill="#3f4d6b" />
<text x="390.40" y="643.50" font-size="12.4" font-weight="bold" fill="#000" stroke="#000" stroke-width="0.55" stroke-linejoin="round">o</text>
<rect x="439.20" y="679.10" width="17.30" height="52.50" fill="#fd7f95" />
<rect x="461.20" y="729.30" width="16.60" height="2.30" fill="#fd7f95" />
<rect x="482.20" y="654.10" width="17.80" height="77.50" fill="#fd7f95" />
<line x1="422.50" y1="652.20" x2="422.50" y2="731.60" stroke="#6c6c6c" stroke-width="0.8" />
<line x1="421.80" y1="731.50" x2="516.80" y2="731.50" stroke="#6c6c6c" stroke-width="0.8" />
<line x1="422.20" y1="672.50" x2="424.20" y2="672.50" stroke="#6c6c6c" stroke-width="0.8" />
<text x="418.00" y="675.00" font-size="7.9" text-anchor="end" textLength="11.42" lengthAdjust="spacingAndGlyphs">1.5</text>
<line x1="422.20" y1="695.50" x2="424.20" y2="695.50" stroke="#6c6c6c" stroke-width="0.8" />
<text x="418.00" y="698.30" font-size="7.9" text-anchor="end" textLength="11.42" lengthAdjust="spacingAndGlyphs">1.0</text>
<line x1="422.20" y1="719.50" x2="424.20" y2="719.50" stroke="#6c6c6c" stroke-width="0.8" />
<text x="418.00" y="722.20" font-size="7.9" text-anchor="end" textLength="11.42" lengthAdjust="spacingAndGlyphs">0.5</text>
<line x1="447.50" y1="731.60" x2="447.50" y2="729.00" stroke="#6c6c6c" stroke-width="0.8" />
<text x="447.90" y="743.00" font-size="9.3" text-anchor="middle">J</text>
<line x1="469.50" y1="731.60" x2="469.50" y2="729.00" stroke="#6c6c6c" stroke-width="0.8" />
<text x="469.60" y="743.00" font-size="9.3" text-anchor="middle">P</text>
<line x1="491.50" y1="731.60" x2="491.50" y2="729.00" stroke="#6c6c6c" stroke-width="0.8" />
<text x="491.10" y="743.00" font-size="9.3" text-anchor="middle">R</text>
<text x="399.20" y="691.90" font-size="9.3" text-anchor="middle" transform="rotate(-90 399.20 691.90)" textLength="62.00" lengthAdjust="spacingAndGlyphs">Cost sensitivity</text>
<text x="447.40" y="670.70" font-size="10.5" text-anchor="middle"><tspan font-family='"Liberation Serif", serif' font-style="italic" font-size="10.5" stroke="#1a1a1a" stroke-width="0.2">η</tspan><tspan font-size="6.3" dy="2.73">yes</tspan></text>
<line x1="460.50" y1="675.60" x2="460.50" y2="666.50" stroke="#3f4d6b" stroke-width="0.9" />
<path d="M460.50,663.20 L462.20,667.00 L458.80,667.00Z" fill="#3f4d6b" />
<text x="465.40" y="720.80" font-size="10.5" text-anchor="middle" font-family='"Liberation Serif", serif' font-style="italic" stroke="#1a1a1a" stroke-width="0.2">κ</text>
<line x1="472.20" y1="711.80" x2="472.20" y2="722.50" stroke="#3f4d6b" stroke-width="0.9" />
<path d="M472.20,725.80 L470.50,722.00 L473.90,722.00Z" fill="#3f4d6b" />
<text x="532.40" y="643.50" font-size="12.4" font-weight="bold" fill="#000" stroke="#000" stroke-width="0.55" stroke-linejoin="round">p</text>
<rect x="565.00" y="689.30" width="7.80" height="42.30" fill="#d8d244" stroke="#4a4a2a" stroke-width="0.6" />
<rect x="574.50" y="704.10" width="8.00" height="27.50" fill="#f6eeb4" stroke="#4a4a2a" stroke-width="0.6" />
<rect x="598.80" y="724.60" width="7.90" height="7.00" fill="#d8d244" stroke="#4a4a2a" stroke-width="0.6" />
<rect x="608.20" y="724.00" width="8.20" height="7.60" fill="#f6eeb4" stroke="#4a4a2a" stroke-width="0.6" />
<rect x="632.50" y="653.30" width="8.00" height="78.30" fill="#d8d244" stroke="#4a4a2a" stroke-width="0.6" />
<rect x="642.50" y="707.30" width="8.00" height="24.30" fill="#f6eeb4" stroke="#4a4a2a" stroke-width="0.6" />
<line x1="557.50" y1="652.20" x2="557.50" y2="731.60" stroke="#6c6c6c" stroke-width="0.8" />
<line x1="557.20" y1="731.50" x2="657.90" y2="731.50" stroke="#6c6c6c" stroke-width="0.8" />
<line x1="557.60" y1="657.50" x2="560.60" y2="657.50" stroke="#6c6c6c" stroke-width="0.8" />
<text x="553.40" y="660.20" font-size="7.9" text-anchor="end" textLength="4.57" lengthAdjust="spacingAndGlyphs">3</text>
<line x1="557.60" y1="682.50" x2="560.60" y2="682.50" stroke="#6c6c6c" stroke-width="0.8" />
<text x="553.40" y="685.00" font-size="7.9" text-anchor="end" textLength="4.57" lengthAdjust="spacingAndGlyphs">2</text>
<line x1="557.60" y1="707.50" x2="560.60" y2="707.50" stroke="#6c6c6c" stroke-width="0.8" />
<text x="553.40" y="710.00" font-size="7.9" text-anchor="end" textLength="4.57" lengthAdjust="spacingAndGlyphs">1</text>
<line x1="557.60" y1="731.50" x2="560.60" y2="731.50" stroke="#6c6c6c" stroke-width="0.8" />
<text x="553.40" y="734.30" font-size="7.9" text-anchor="end" textLength="4.57" lengthAdjust="spacingAndGlyphs">0</text>
<text x="573.90" y="742.70" font-size="9.3" text-anchor="middle">J</text>
<text x="607.70" y="742.70" font-size="9.3" text-anchor="middle">P</text>
<text x="641.60" y="742.70" font-size="9.3" text-anchor="middle">R</text>
<text x="541.00" y="691.90" font-size="9.3" text-anchor="middle" transform="rotate(-90 541.00 691.90)" textLength="62.00" lengthAdjust="spacingAndGlyphs">Cost sensitivity</text>
<text x="588.30" y="683.40" font-size="10.5" text-anchor="middle"><tspan font-family='"Liberation Serif", serif' font-style="italic" font-size="10.5" stroke="#1a1a1a" stroke-width="0.2">η</tspan><tspan font-size="6.3" dy="2.73">yes</tspan></text>
<line x1="583.40" y1="699.40" x2="573.51" y2="683.02" stroke="#3f4d6b" stroke-width="0.9" />
<path d="M571.80,680.20 L575.22,682.57 L572.31,684.33Z" fill="#3f4d6b" />
<text x="604.10" y="705.60" font-size="10.5" text-anchor="middle" font-family='"Liberation Serif", serif' font-style="italic" stroke="#1a1a1a" stroke-width="0.2">κ</text>
<line x1="617.70" y1="709.40" x2="601.25" y2="716.15" stroke="#3f4d6b" stroke-width="0.9" />
<path d="M598.20,717.40 L601.07,714.38 L602.36,717.53Z" fill="#3f4d6b" />
<text x="94.40" y="762.60" font-size="12.4" font-weight="bold" fill="#000" stroke="#000" stroke-width="0.55" stroke-linejoin="round">q</text>
<rect x="141.50" y="802.30" width="17.30" height="52.00" fill="#e2dc6c" />
<rect x="163.30" y="849.60" width="17.30" height="4.70" fill="#e2dc6c" />
<rect x="184.80" y="779.40" width="17.10" height="74.90" fill="#e2dc6c" />
<line x1="124.50" y1="775.00" x2="124.50" y2="854.30" stroke="#6c6c6c" stroke-width="0.8" />
<line x1="124.10" y1="854.50" x2="218.70" y2="854.50" stroke="#6c6c6c" stroke-width="0.8" />
<line x1="124.50" y1="777.50" x2="127.50" y2="777.50" stroke="#6c6c6c" stroke-width="0.8" />
<text x="120.30" y="780.00" font-size="7.9" text-anchor="end" textLength="11.42" lengthAdjust="spacingAndGlyphs">1.2</text>
<line x1="124.50" y1="796.50" x2="127.50" y2="796.50" stroke="#6c6c6c" stroke-width="0.8" />
<text x="120.30" y="798.90" font-size="7.9" text-anchor="end" textLength="11.42" lengthAdjust="spacingAndGlyphs">1.0</text>
<line x1="124.50" y1="815.50" x2="127.50" y2="815.50" stroke="#6c6c6c" stroke-width="0.8" />
<text x="120.30" y="817.90" font-size="7.9" text-anchor="end" textLength="11.42" lengthAdjust="spacingAndGlyphs">0.8</text>
<line x1="124.50" y1="834.50" x2="127.50" y2="834.50" stroke="#6c6c6c" stroke-width="0.8" />
<text x="120.30" y="837.00" font-size="7.9" text-anchor="end" textLength="11.42" lengthAdjust="spacingAndGlyphs">0.6</text>
<line x1="124.50" y1="853.50" x2="127.50" y2="853.50" stroke="#6c6c6c" stroke-width="0.8" />
<text x="120.30" y="856.00" font-size="7.9" text-anchor="end" textLength="11.42" lengthAdjust="spacingAndGlyphs">0.4</text>
<line x1="150.50" y1="854.30" x2="150.50" y2="851.70" stroke="#6c6c6c" stroke-width="0.8" />
<text x="150.20" y="865.70" font-size="9.3" text-anchor="middle">J</text>
<line x1="172.50" y1="854.30" x2="172.50" y2="851.70" stroke="#6c6c6c" stroke-width="0.8" />
<text x="172.00" y="865.70" font-size="9.3" text-anchor="middle">P</text>
<line x1="193.50" y1="854.30" x2="193.50" y2="851.70" stroke="#6c6c6c" stroke-width="0.8" />
<text x="193.20" y="865.70" font-size="9.3" text-anchor="middle">R</text>
<text x="100.30" y="814.40" font-size="9.3" text-anchor="middle" transform="rotate(-90 100.30 814.40)" textLength="85.00" lengthAdjust="spacingAndGlyphs">Inequality sensitivity</text>
<text x="169.30" y="841.30" font-size="10.5" text-anchor="middle" font-family='"Liberation Serif", serif' font-style="italic" stroke="#1a1a1a" stroke-width="0.2">κ</text>
<line x1="176.40" y1="832.00" x2="176.40" y2="843.10" stroke="#3f4d6b" stroke-width="0.9" />
<path d="M176.40,846.40 L174.70,842.60 L178.10,842.60Z" fill="#3f4d6b" />
<text x="274.40" y="762.40" font-size="12.4" font-weight="bold" fill="#000" stroke="#000" stroke-width="0.55" stroke-linejoin="round">r</text>
<rect x="305.80" y="819.20" width="7.10" height="33.90" fill="#6f6ff6" />
<rect x="314.50" y="826.20" width="7.40" height="26.90" fill="#cbcbfb" />
<rect x="337.00" y="840.70" width="7.10" height="12.40" fill="#6f6ff6" />
<rect x="346.10" y="833.30" width="7.10" height="19.80" fill="#cbcbfb" />
<rect x="388.10" y="840.00" width="7.00" height="13.10" fill="#6f6ff6" />
<rect x="396.80" y="847.40" width="7.10" height="5.70" fill="#cbcbfb" />
<rect x="419.30" y="840.00" width="7.10" height="13.10" fill="#6f6ff6" />
<rect x="428.00" y="846.00" width="7.10" height="7.10" fill="#cbcbfb" />
<rect x="470.10" y="778.20" width="7.40" height="74.90" fill="#6f6ff6" />
<rect x="478.80" y="810.80" width="7.40" height="42.30" fill="#cbcbfb" />
<rect x="501.30" y="843.40" width="7.40" height="9.70" fill="#6f6ff6" />
<rect x="510.10" y="849.10" width="7.40" height="4.00" fill="#cbcbfb" />
<line x1="298.50" y1="775.20" x2="298.50" y2="853.10" stroke="#6c6c6c" stroke-width="0.8" />
<line x1="298.10" y1="853.50" x2="524.50" y2="853.50" stroke="#6c6c6c" stroke-width="0.8" />
<line x1="298.50" y1="782.50" x2="301.50" y2="782.50" stroke="#6c6c6c" stroke-width="0.8" />
<text x="294.30" y="784.90" font-size="7.9" text-anchor="end" textLength="4.57" lengthAdjust="spacingAndGlyphs">3</text>
<line x1="298.50" y1="806.50" x2="301.50" y2="806.50" stroke="#6c6c6c" stroke-width="0.8" />
<text x="294.30" y="808.80" font-size="7.9" text-anchor="end" textLength="4.57" lengthAdjust="spacingAndGlyphs">2</text>
<line x1="298.50" y1="829.50" x2="301.50" y2="829.50" stroke="#6c6c6c" stroke-width="0.8" />
<text x="294.30" y="831.90" font-size="7.9" text-anchor="end" textLength="4.57" lengthAdjust="spacingAndGlyphs">1</text>
<line x1="298.50" y1="853.50" x2="301.50" y2="853.50" stroke="#6c6c6c" stroke-width="0.8" />
<text x="294.30" y="855.80" font-size="7.9" text-anchor="end" textLength="4.57" lengthAdjust="spacingAndGlyphs">0</text>
<text x="281.80" y="814.50" font-size="9.3" text-anchor="middle" transform="rotate(-90 281.80 814.50)" textLength="85.00" lengthAdjust="spacingAndGlyphs">Inequality sensitivity</text>
<text x="313.30" y="861.00" font-size="8.0" text-anchor="end" transform="rotate(-45 313.30 861.00)">Low cost</text>
<text x="344.70" y="861.00" font-size="8.0" text-anchor="end" transform="rotate(-45 344.70 861.00)">High cost</text>
<text x="395.50" y="861.00" font-size="8.0" text-anchor="end" transform="rotate(-45 395.50 861.00)">Low cost</text>
<text x="426.70" y="861.00" font-size="8.0" text-anchor="end" transform="rotate(-45 426.70 861.00)">High cost</text>
<text x="477.70" y="861.00" font-size="8.0" text-anchor="end" transform="rotate(-45 477.70 861.00)">Low cost</text>
<text x="508.90" y="861.00" font-size="8.0" text-anchor="end" transform="rotate(-45 508.90 861.00)">High cost</text>
<text x="328.60" y="897.90" font-size="9.3" text-anchor="middle">J</text>
<text x="410.20" y="897.90" font-size="9.3" text-anchor="middle">P</text>
<text x="494.30" y="897.90" font-size="9.3" text-anchor="middle">R</text>
<text x="332.30" y="799.20" font-size="10.5" text-anchor="middle"><tspan font-family='"Liberation Serif", serif' font-style="italic" font-size="10.5" stroke="#1a1a1a" stroke-width="0.2">η</tspan><tspan font-size="6.3" dy="2.73">yes</tspan></text>
<line x1="351.10" y1="802.70" x2="314.12" y2="811.07" stroke="#3f4d6b" stroke-width="0.9" />
<path d="M310.90,811.80 L314.23,809.30 L314.98,812.62Z" fill="#3f4d6b" />
<text x="407.20" y="823.00" font-size="10.5" text-anchor="middle" font-family='"Liberation Serif", serif' font-style="italic" stroke="#1a1a1a" stroke-width="0.2">κ</text>
<line x1="428.00" y1="822.90" x2="390.98" y2="833.12" stroke="#3f4d6b" stroke-width="0.9" />
<path d="M387.80,834.00 L391.01,831.35 L391.92,834.63Z" fill="#3f4d6b" />
<text x="504.70" y="799.20" font-size="10.5" text-anchor="middle"><tspan font-family='"Liberation Serif", serif' font-style="italic" font-size="10.5" stroke="#1a1a1a" stroke-width="0.2">η</tspan><tspan font-size="6.3" dy="2.73">no</tspan></text>
<line x1="475.80" y1="772.80" x2="511.09" y2="831.18" stroke="#3f4d6b" stroke-width="0.9" />
<path d="M512.80,834.00 L509.38,831.63 L512.29,829.87Z" fill="#3f4d6b" />
<rect x="549.00" y="784.60" width="7.70" height="7.90" fill="#d8d244" />
<text x="561.80" y="792.00" font-size="9.3" textLength="63.50" lengthAdjust="spacingAndGlyphs">High inequality</text>
<rect x="549.00" y="798.70" width="7.70" height="7.90" fill="#f6eeb4" />
<text x="561.80" y="805.70" font-size="9.3" textLength="61.10" lengthAdjust="spacingAndGlyphs">Low inequality</text>
<rect x="549.00" y="817.50" width="7.70" height="7.90" fill="#6f6ff6" />
<text x="561.80" y="824.50" font-size="9.3" textLength="41.00" lengthAdjust="spacingAndGlyphs">High ratio</text>
<rect x="549.00" y="831.30" width="7.70" height="7.90" fill="#cbcbfb" />
<text x="561.80" y="838.30" font-size="9.3" textLength="38.30" lengthAdjust="spacingAndGlyphs">Low ratio</text>
</svg>
</body></html>
